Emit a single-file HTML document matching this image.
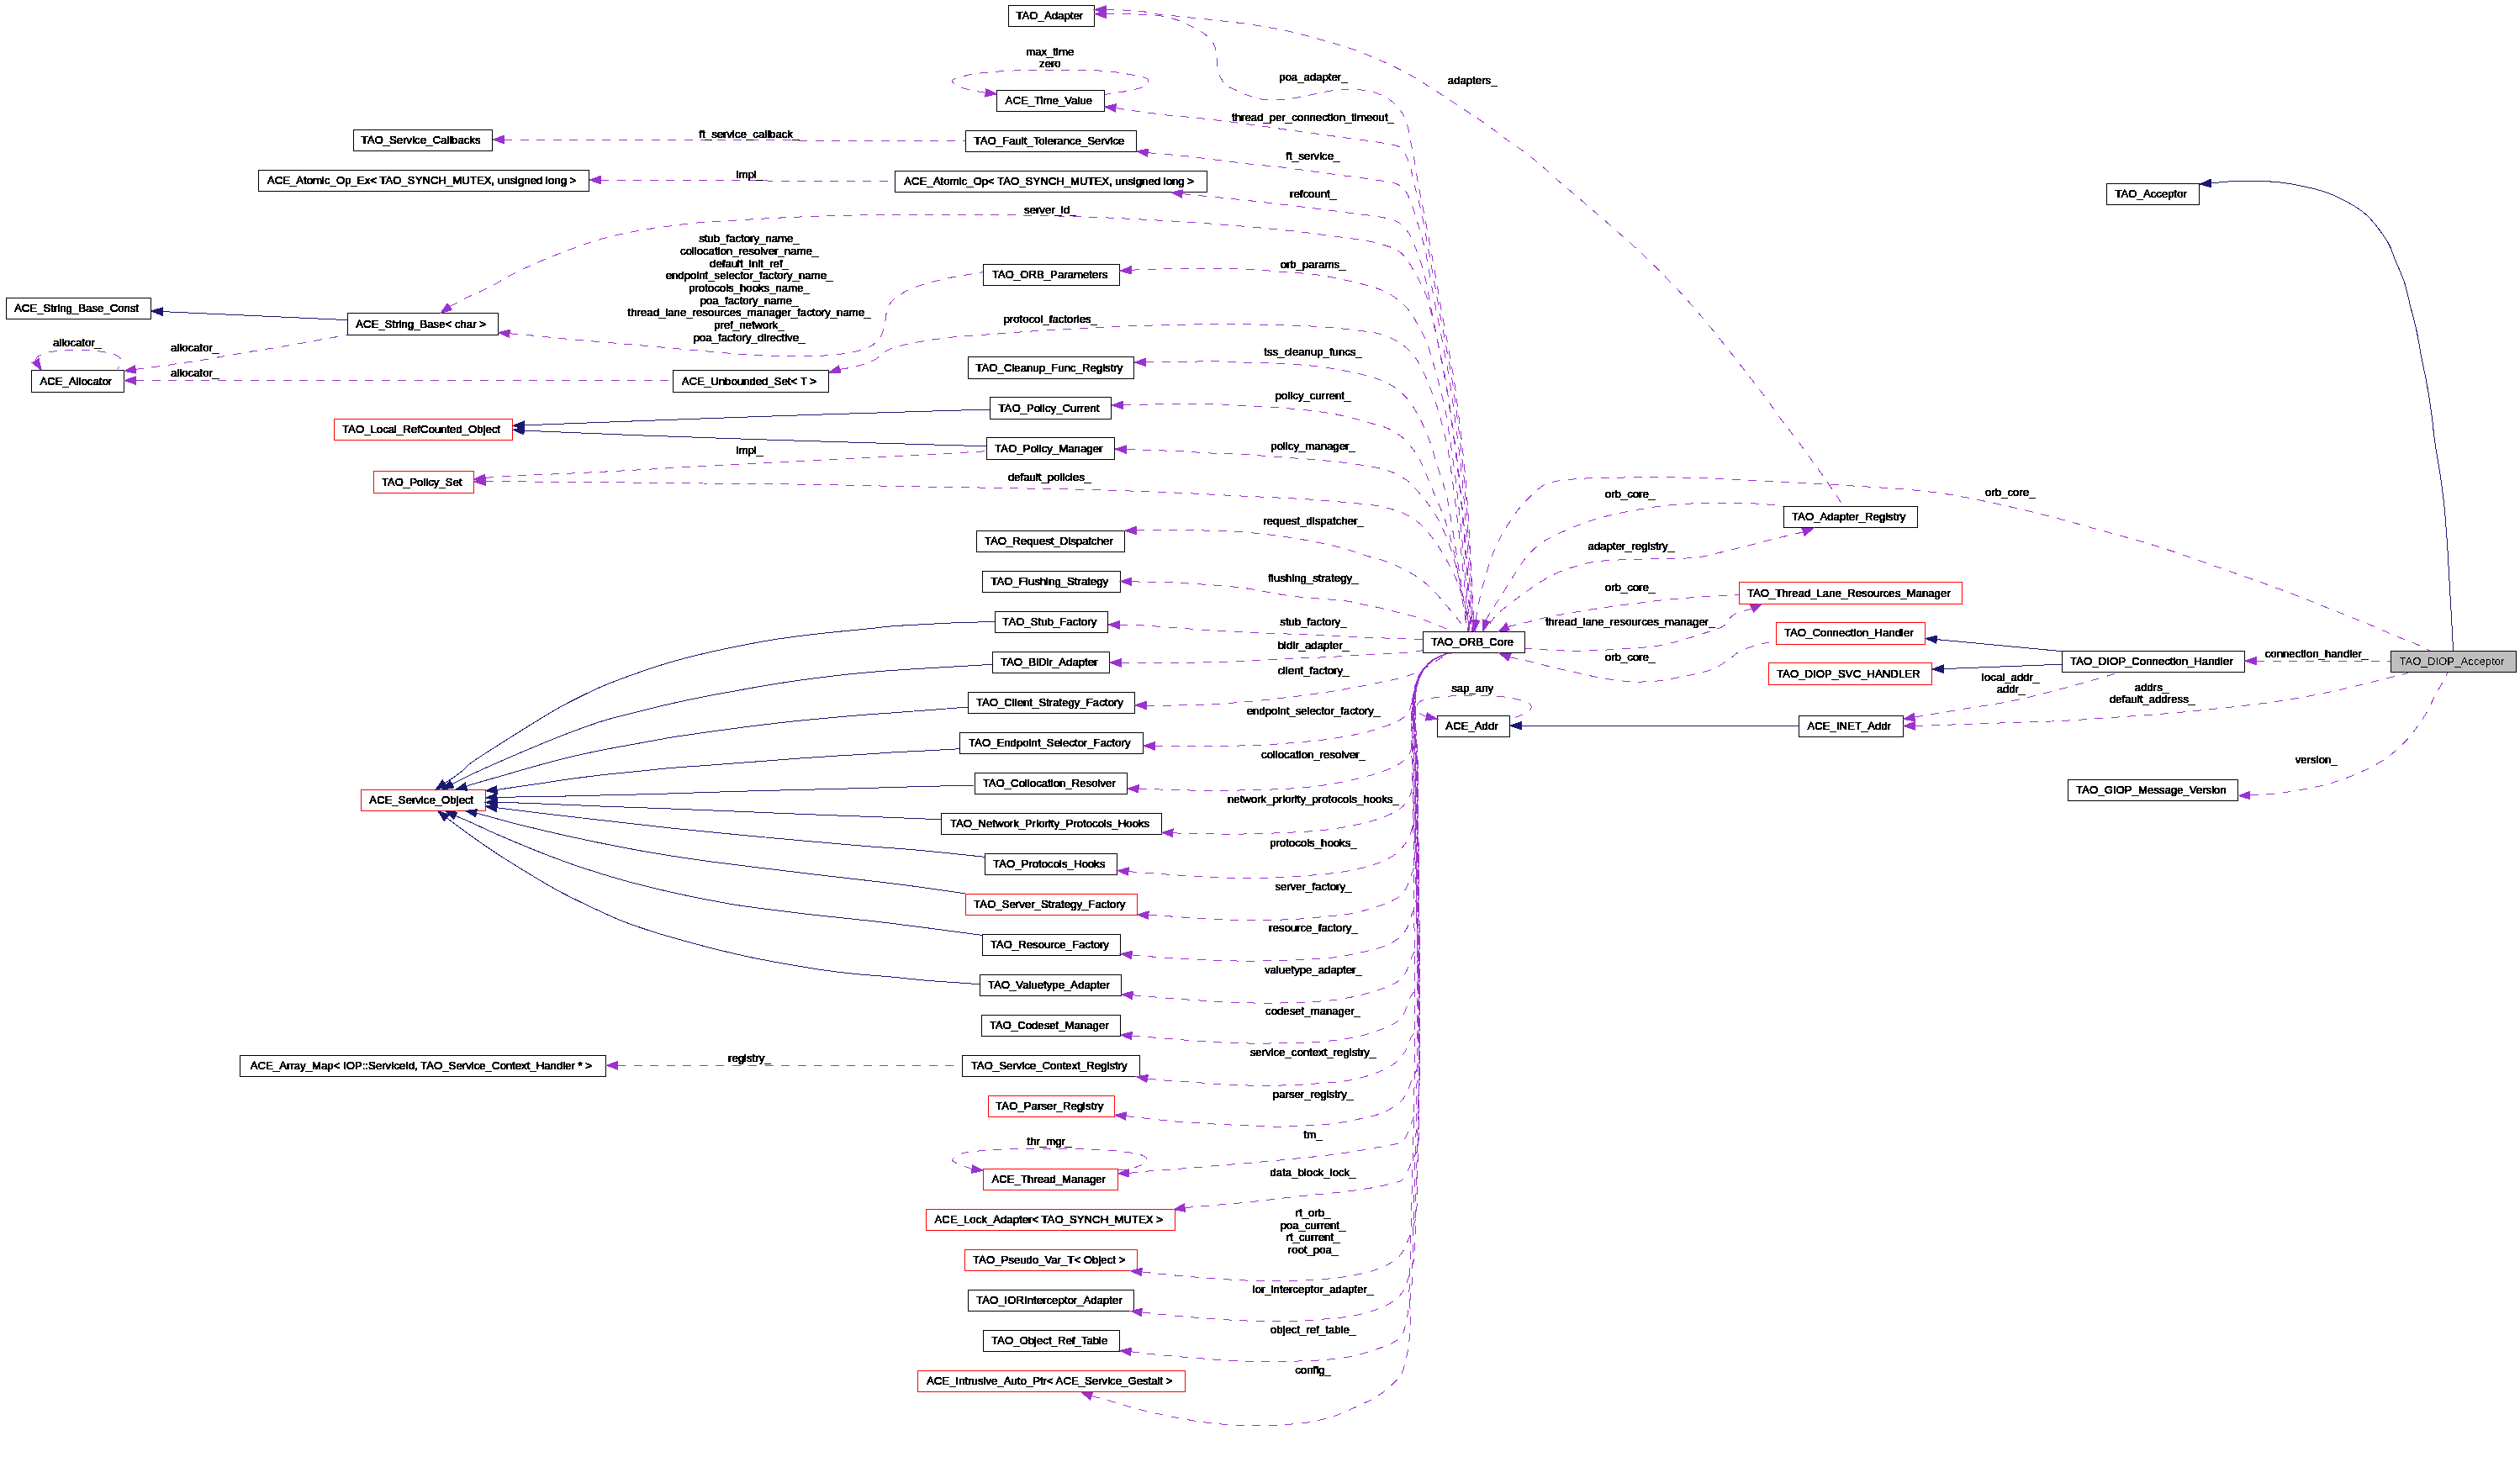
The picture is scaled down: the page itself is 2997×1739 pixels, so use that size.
<!DOCTYPE html>
<html><head><meta charset="utf-8"><title>TAO_DIOP_Acceptor collaboration graph</title>
<style>
html,body{margin:0;padding:0;background:#fff;}
svg{display:block;}
text{font-family:"Liberation Sans",sans-serif;font-size:13.2px;fill:#000;text-anchor:middle;stroke:#000;stroke-width:0.8px;}
.e{fill:none;stroke-width:1;}
.p{stroke:#9a32cd;stroke-dasharray:10 9.5;}
.b{stroke:#191970;}
.ap{fill:#9a32cd;stroke:#9a32cd;stroke-width:1;}
.ab{fill:#191970;stroke:#191970;stroke-width:1;}
.nk{fill:#fff;stroke:#000;stroke-width:1;}
.nr{fill:#fff;stroke:#f00;stroke-width:1;}
.ng{fill:#bfbfbf;stroke:#000;stroke-width:1;}
</style></head>
<body>
<svg width="2997" height="1739" viewBox="0 0 2997 1739">
<rect x="0" y="0" width="2997" height="1739" fill="#fff"/>
<g shape-rendering="crispEdges">
<path class="e p" d="M599.3,166.0L1148.0,167.6"/>
<path class="e p" d="M714.3,214.1L1064.0,215.7"/>
<path class="e b" d="M193.3,370.6L413.3,380.6"/>
<path class="e p" d="M161.2,439.4C173.0,437.9 184.9,436.4 196.8,434.7C213.2,432.3 229.6,430.0 246.0,427.3C262.4,424.6 278.8,421.5 295.2,418.7C311.6,416.0 328.0,413.6 344.4,410.8C356.7,408.7 369.0,406.2 381.3,404.0C392.0,402.1 402.6,400.3 413.3,398.5"/>
<path class="e p" d="M161.3,452.6L800.0,453.0"/>
<path class="e p" d="M42.1,429.1C42.9,427.7 43.1,425.8 44.3,424.9C47.1,422.8 50.5,420.9 54.0,420.0C60.4,418.2 67.2,417.4 73.8,416.8C82.0,416.1 90.2,416.0 98.4,416.3C106.6,416.6 114.9,417.3 123.0,418.7C128.8,419.7 135.3,420.8 140.2,423.6C142.5,424.9 144.6,428.5 144.6,431.0C144.6,433.5 141.7,435.9 140.2,438.4"/>
<path class="e b" d="M623.3,505.8C672.4,504.0 721.4,502.1 770.5,500.3C835.6,497.9 900.6,495.5 965.7,493.4C1036.2,491.1 1106.8,489.1 1177.3,487.0"/>
<path class="e b" d="M623.3,512.2C672.3,514.2 721.4,516.4 770.5,518.2C835.6,520.6 900.6,522.7 965.7,524.7C1034.9,526.9 1104.2,528.8 1173.4,530.8"/>
<path class="e p" d="M577.2,568.7C582.0,568.1 586.7,567.3 591.5,567.0C629.4,565.0 667.4,563.7 705.4,561.8C748.8,559.6 792.2,556.9 835.6,554.6C879.0,552.3 922.3,550.3 965.7,548.0C1009.1,545.7 1052.6,543.4 1096.0,541.0C1121.8,539.6 1147.6,538.1 1173.4,536.7"/>
<path class="e p" d="M606.1,396.8C613.8,397.4 621.5,398.0 629.2,398.7C645.6,400.2 662.0,402.1 678.4,403.6C694.8,405.1 711.2,406.4 727.6,407.8C744.0,409.2 760.4,410.7 776.8,412.2C793.2,413.7 809.6,415.2 826.0,416.6C842.4,418.0 858.8,419.7 875.2,420.8C891.6,421.9 908.0,422.9 924.4,423.3C940.8,423.7 957.2,424.0 973.6,423.3C985.9,422.8 998.4,421.8 1010.5,419.6C1018.9,418.1 1027.7,416.1 1035.0,412.2C1040.0,409.6 1044.4,404.8 1047.4,400.0C1050.1,395.7 1051.0,390.1 1052.3,385.0C1053.5,380.2 1053.2,375.0 1054.8,370.4C1056.4,365.6 1058.3,360.2 1062.0,356.8C1068.2,351.1 1076.3,346.6 1084.3,343.3C1096.1,338.4 1108.7,335.1 1121.2,332.2C1137.0,328.5 1153.2,326.5 1169.2,323.6"/>
<path class="e p" d="M734.3,1267.3L1144.0,1267.3"/>
<path class="e b" d="M528.9,931.8C535.3,927.4 541.9,923.3 548.0,918.5C552.3,915.2 555.6,910.7 560.0,907.6C572.8,898.5 586.4,890.3 599.7,881.8C612.9,873.4 626.1,865.2 639.4,857.0C647.3,852.1 655.1,847.2 663.2,842.7C671.7,838.0 680.3,833.5 689.0,829.2C698.8,824.4 708.6,819.5 718.7,815.3C731.7,809.9 745.1,805.1 758.4,800.4C771.5,795.8 784.7,791.4 798.0,787.5C811.1,783.7 824.5,780.4 837.8,777.2C851.0,774.1 864.2,771.4 877.5,768.7C890.6,766.1 903.8,763.5 917.0,761.3C930.2,759.2 943.5,757.5 956.8,755.8C970.0,754.2 983.3,752.8 996.5,751.4C1009.7,750.0 1023.0,748.9 1036.2,747.5C1044.1,746.7 1052.0,745.5 1060.0,744.9C1073.3,743.9 1086.7,743.3 1100.0,742.6C1113.0,741.9 1126.0,741.2 1139.0,740.7C1153.8,740.2 1168.5,739.9 1183.3,739.5"/>
<path class="e b" d="M537.7,932.7C545.2,929.0 552.5,925.0 560.0,921.5C573.1,915.3 586.4,909.4 599.7,903.6C612.9,897.8 626.1,892.2 639.4,886.7C652.5,881.3 665.7,875.9 679.0,870.9C692.1,866.0 705.3,861.1 718.7,857.0C731.8,853.0 745.1,850.0 758.4,846.7C771.6,843.4 784.8,840.0 798.0,837.0C811.2,834.0 824.5,831.2 837.8,828.6C851.0,826.0 864.3,823.7 877.5,821.3C890.7,818.9 903.8,816.4 917.0,814.3C930.2,812.1 943.5,810.2 956.8,808.4C970.0,806.6 983.2,804.9 996.5,803.4C1009.7,801.9 1023.0,800.6 1036.2,799.4C1044.1,798.7 1052.1,798.0 1060.0,797.5C1073.3,796.6 1086.7,795.8 1100.0,795.0C1113.0,794.2 1126.0,793.5 1139.0,792.7C1152.7,791.9 1166.5,791.1 1180.2,790.3"/>
<path class="e b" d="M554.5,935.6C556.3,934.9 558.1,934.0 560.0,933.4C573.2,929.4 586.5,925.8 599.7,922.0C612.9,918.2 626.1,914.2 639.4,910.6C652.6,907.0 665.7,903.4 679.0,900.2C692.2,897.1 705.4,894.3 718.7,891.7C731.9,889.1 745.2,886.8 758.4,884.4C771.6,882.0 784.8,879.4 798.0,877.2C811.2,875.0 824.5,873.2 837.8,871.3C851.0,869.4 864.3,867.6 877.5,865.9C890.7,864.2 903.8,862.5 917.0,861.0C930.3,859.4 943.5,857.9 956.8,856.6C970.0,855.3 983.3,854.2 996.5,853.0C1009.7,851.8 1023.0,850.6 1036.2,849.6C1044.1,849.0 1052.1,848.6 1060.0,848.0C1073.3,847.0 1086.7,846.0 1100.0,845.0C1117.1,843.7 1134.1,842.3 1151.2,841.0"/>
<path class="e b" d="M590.9,939.4C607.1,937.1 623.3,934.8 639.4,932.4C652.6,930.5 665.8,928.2 679.0,926.4C692.2,924.6 705.5,923.0 718.7,921.5C731.9,920.0 745.2,918.8 758.4,917.5C771.6,916.2 784.8,914.6 798.0,913.5C811.3,912.3 824.5,911.6 837.8,910.6C851.0,909.6 864.3,908.6 877.5,907.6C890.7,906.6 903.8,905.6 917.0,904.6C930.3,903.6 943.5,902.5 956.8,901.6C970.0,900.7 983.3,899.8 996.5,899.0C1009.7,898.2 1023.0,897.5 1036.2,896.7C1044.1,896.2 1052.1,895.5 1060.0,895.0C1073.3,894.2 1086.7,893.7 1100.0,893.0C1113.8,892.3 1127.5,891.5 1141.3,890.7"/>
<path class="e b" d="M591.0,948.3C613.7,948.0 636.5,947.7 659.2,947.3C679.0,946.9 698.9,946.4 718.7,945.9C745.1,945.3 771.6,944.7 798.0,943.9C824.5,943.1 851.0,942.1 877.5,941.3C903.9,940.5 930.4,940.0 956.8,939.3C983.3,938.6 1009.7,938.0 1036.2,937.3C1044.1,937.1 1052.1,936.7 1060.0,936.5C1093.0,935.6 1126.1,934.8 1159.1,934.0"/>
<path class="e b" d="M591.0,954.2C607.1,954.7 623.3,955.2 639.4,955.8C665.8,956.8 692.3,958.2 718.7,959.2C745.1,960.2 771.6,961.0 798.0,962.0C824.5,963.0 851.0,964.1 877.5,965.2C903.9,966.3 930.4,967.5 956.8,968.5C983.3,969.6 1009.7,970.5 1036.2,971.5C1044.1,971.8 1052.1,972.1 1060.0,972.4C1079.8,973.2 1099.6,974.0 1119.4,974.8"/>
<path class="e b" d="M590.9,960.7C607.1,962.7 623.2,964.9 639.4,966.8C665.8,970.0 692.3,973.0 718.7,976.0C745.1,979.0 771.5,982.2 798.0,985.0C824.5,987.8 851.0,990.4 877.5,992.9C903.9,995.4 930.4,997.9 956.8,1000.2C983.3,1002.6 1009.7,1004.8 1036.2,1007.0C1044.1,1007.7 1052.1,1008.1 1060.0,1008.7C1073.3,1009.7 1086.7,1010.7 1100.0,1012.0C1123.7,1014.3 1147.3,1016.9 1171.0,1019.3"/>
<path class="e b" d="M566.6,967.2C584.2,971.9 601.8,977.0 619.5,981.4C639.3,986.3 659.1,990.9 679.0,995.3C698.8,999.7 718.7,1003.8 738.6,1007.6C758.3,1011.4 778.2,1014.8 798.0,1018.0C817.8,1021.1 837.7,1023.9 857.6,1026.5C877.4,1029.1 897.2,1031.4 917.0,1033.8C936.9,1036.2 956.8,1038.6 976.7,1041.0C996.5,1043.3 1016.4,1045.6 1036.2,1047.9C1044.1,1048.8 1052.1,1049.7 1060.0,1050.7C1073.3,1052.4 1086.7,1054.1 1100.0,1056.0C1116.1,1058.2 1132.3,1060.7 1148.4,1063.0"/>
<path class="e b" d="M541.7,970.4C547.8,973.0 553.9,975.5 560.0,978.2C570.6,983.0 581.0,988.1 591.7,992.7C607.5,999.5 623.4,1006.2 639.4,1012.6C652.5,1017.8 665.7,1022.8 679.0,1027.5C692.1,1032.1 705.4,1036.3 718.7,1040.4C731.9,1044.4 745.1,1048.2 758.4,1051.7C771.5,1055.1 784.8,1058.2 798.0,1061.2C811.2,1064.2 824.5,1066.9 837.8,1069.5C851.0,1072.1 864.2,1074.6 877.5,1076.7C890.6,1078.8 903.8,1080.3 917.0,1082.0C930.3,1083.7 943.5,1085.4 956.8,1087.0C970.0,1088.5 983.3,1089.9 996.5,1091.3C1009.7,1092.7 1023.0,1094.0 1036.2,1095.5C1044.1,1096.4 1052.1,1097.3 1060.0,1098.3C1073.3,1100.0 1086.7,1101.7 1100.0,1103.4C1122.8,1106.4 1145.5,1109.5 1168.3,1112.5"/>
<path class="e b" d="M531.2,972.8C540.8,979.9 550.3,987.1 560.0,994.0C569.8,1001.0 579.7,1008.0 589.8,1014.6C602.8,1023.1 616.1,1031.3 629.4,1039.4C640.6,1046.2 651.7,1053.0 663.2,1059.2C674.9,1065.5 686.9,1071.3 698.9,1077.0C712.0,1083.2 725.1,1089.6 738.6,1095.0C751.6,1100.2 764.9,1104.6 778.2,1108.8C791.4,1113.0 804.7,1116.6 818.0,1120.3C831.2,1123.9 844.3,1127.4 857.6,1130.6C870.8,1133.8 884.0,1136.9 897.3,1139.6C910.5,1142.3 923.7,1144.7 937.0,1147.0C950.2,1149.3 963.4,1151.6 976.7,1153.5C989.9,1155.4 1003.1,1157.1 1016.3,1158.4C1030.8,1159.9 1045.4,1160.7 1060.0,1162.0C1073.1,1163.2 1086.1,1164.9 1099.2,1166.0C1121.1,1167.8 1143.1,1169.1 1165.0,1170.7"/>
<path class="e b" d="M2629.4,218.0C2638.4,217.2 2647.4,215.9 2656.4,215.6C2669.4,215.1 2682.4,214.9 2695.4,215.6C2705.7,216.1 2716.1,217.2 2726.2,219.1C2740.0,221.7 2754.1,224.3 2767.2,229.0C2779.3,233.4 2791.0,239.7 2802.0,246.4C2808.4,250.3 2814.5,255.2 2819.5,260.8C2827.1,269.3 2834.2,278.7 2840.0,288.5C2844.1,295.4 2846.2,303.5 2849.3,311.0C2852.7,319.2 2856.7,327.3 2859.5,335.7C2862.5,345.1 2864.3,354.8 2866.7,364.4C2869.1,373.9 2871.8,383.4 2873.9,393.0C2876.3,403.9 2877.9,415.0 2880.0,426.0C2882.0,436.3 2884.4,446.4 2886.2,456.7C2888.2,467.8 2890.0,478.9 2891.5,490.0C2893.1,501.2 2893.9,512.5 2895.5,523.7C2897.0,534.3 2898.9,544.8 2900.6,555.4C2901.7,562.2 2902.8,569.1 2903.7,575.9C2904.8,583.8 2905.9,591.7 2906.7,599.7C2907.9,611.6 2908.8,623.5 2909.7,635.4C2910.5,645.9 2911.1,656.5 2911.7,667.0C2912.4,679.0 2913.0,690.9 2913.7,702.9C2914.4,714.8 2915.1,726.7 2915.7,738.6C2916.4,750.6 2917.0,762.7 2917.6,774.7"/>
<path class="e p" d="M2683.3,786.2L2843.2,786.2"/>
<path class="e b" d="M2303.2,760.6L2452.4,774.7"/>
<path class="e b" d="M2311.3,795.6L2452.4,790.2"/>
<path class="e b" d="M1809.3,863.2L2139.3,863.2"/>
<path class="e p" d="M2276.9,853.1C2293.4,850.3 2310.0,847.4 2326.5,844.7C2347.6,841.2 2368.8,838.4 2389.8,834.3C2405.7,831.2 2421.3,827.1 2437.0,823.2C2447.6,820.6 2458.2,817.6 2468.8,814.7C2479.4,811.8 2489.9,808.9 2500.4,805.8C2506.8,804.0 2513.1,801.9 2519.4,800.0"/>
<path class="e p" d="M2277.1,863.4C2293.6,862.8 2310.0,862.4 2326.5,861.8C2347.6,861.1 2368.7,860.3 2389.8,859.6C2410.9,858.9 2432.0,858.5 2453.0,857.4C2474.0,856.3 2495.0,854.7 2516.0,853.2C2537.2,851.7 2558.4,850.3 2579.5,848.5C2600.6,846.7 2621.7,844.4 2642.8,842.2C2658.5,840.5 2674.3,838.9 2690.0,836.8C2705.9,834.7 2721.8,832.3 2737.6,829.5C2753.5,826.7 2769.3,823.5 2785.0,820.0C2800.9,816.4 2816.7,812.2 2832.5,808.3C2843.0,805.7 2853.5,803.1 2864.0,800.5"/>
<path class="e p" d="M2675.7,946.0C2685.8,945.3 2695.9,945.1 2706.0,944.0C2716.6,942.9 2727.1,941.2 2737.6,939.3C2748.2,937.3 2758.9,935.3 2769.3,932.3C2780.0,929.2 2790.7,925.6 2801.0,921.2C2811.8,916.6 2822.7,911.7 2832.5,905.4C2841.6,899.6 2850.0,892.4 2857.8,884.9C2863.7,879.2 2868.7,872.5 2873.6,865.9C2878.2,859.8 2882.5,853.5 2886.3,846.9C2889.9,840.8 2892.4,834.1 2895.8,827.9C2899.8,820.4 2904.3,813.2 2908.4,805.8C2909.4,803.9 2910.1,801.9 2911.0,800.0"/>
<path class="e p" d="M1755.0,737.8C1755.6,734.7 1756.1,731.7 1756.7,728.7C1758.3,720.1 1759.7,711.4 1761.7,702.9C1763.0,697.5 1765.1,692.3 1766.7,687.0C1768.4,681.0 1769.6,674.9 1771.6,669.0C1773.6,663.0 1776.0,657.1 1778.6,651.3C1781.3,645.2 1784.3,639.2 1787.5,633.4C1790.2,628.6 1793.4,624.1 1796.4,619.5C1799.5,614.8 1802.5,610.0 1806.0,605.6C1809.7,601.0 1813.8,596.8 1818.0,592.7C1822.5,588.2 1827.0,583.7 1832.0,579.8C1834.7,577.7 1837.8,575.9 1841.0,574.9C1847.1,573.0 1853.6,571.7 1860.0,571.0C1873.3,569.6 1886.6,568.8 1900.0,568.5C1933.3,567.8 1966.7,567.6 2000.0,568.0C2019.3,568.2 2038.7,569.4 2058.0,570.3C2068.6,570.8 2079.1,571.4 2089.7,572.0C2102.8,572.7 2115.9,573.4 2129.0,574.0C2142.3,574.7 2155.7,575.2 2169.0,575.9C2182.2,576.6 2195.5,577.5 2208.7,578.3C2221.9,579.1 2235.2,579.8 2248.4,580.8C2261.6,581.8 2274.8,582.7 2288.0,584.2C2301.3,585.7 2314.6,587.6 2327.8,589.8C2341.1,592.1 2354.3,594.9 2367.5,597.7C2380.7,600.5 2393.9,603.5 2407.0,606.6C2420.3,609.8 2433.6,613.0 2446.8,616.5C2460.1,620.0 2473.3,623.8 2486.5,627.5C2503.2,632.1 2520.0,636.5 2536.7,641.3C2550.0,645.1 2563.3,649.0 2576.4,653.3C2589.7,657.6 2602.8,662.4 2616.0,667.0C2629.2,671.6 2642.5,676.3 2655.7,681.0C2668.9,685.7 2682.2,690.2 2695.4,695.0C2708.6,699.8 2721.9,704.7 2735.0,709.8C2748.3,715.0 2761.5,720.4 2774.8,725.7C2788.0,731.0 2801.3,736.1 2814.5,741.5C2827.7,747.0 2840.8,752.9 2854.0,758.4C2860.6,761.2 2867.4,763.5 2874.0,766.3C2879.7,768.8 2885.2,771.6 2890.8,774.3"/>
<path class="e p" d="M1767.5,738.3C1767.9,737.0 1768.0,735.7 1768.7,734.6C1774.3,725.2 1780.6,716.1 1786.5,706.8C1793.2,696.3 1799.4,685.5 1806.3,675.1C1810.0,669.6 1813.8,664.0 1818.3,659.2C1823.0,654.1 1828.4,649.3 1834.1,645.3C1840.3,641.0 1847.1,637.4 1854.0,634.4C1868.2,628.2 1882.7,621.9 1897.6,617.5C1917.1,611.9 1937.1,607.8 1957.1,604.6C1976.8,601.5 1996.8,599.7 2016.7,598.7C2036.5,597.7 2056.4,598.6 2076.2,598.7C2080.7,598.7 2085.2,598.8 2089.7,599.1C2096.3,599.5 2102.9,600.0 2109.5,600.7C2113.5,601.1 2117.4,601.8 2121.4,602.3"/>
<path class="e p" d="M2144.6,632.8C2139.5,634.0 2134.5,635.2 2129.4,636.4C2122.8,638.0 2116.1,639.4 2109.5,641.0C2102.9,642.7 2096.3,644.6 2089.7,646.3C2083.1,648.0 2076.4,649.6 2069.8,651.3C2063.2,652.9 2056.6,654.7 2050.0,656.2C2038.9,658.7 2027.9,662.1 2016.7,663.2C1997.0,665.1 1977.0,664.3 1957.1,665.2C1937.3,666.0 1917.2,665.4 1897.6,668.1C1884.1,670.0 1870.8,674.4 1857.9,679.0C1849.6,682.0 1841.7,686.4 1834.1,691.0C1825.2,696.3 1816.8,702.7 1808.3,708.8C1803.0,712.7 1797.6,716.6 1792.5,720.7C1787.7,724.5 1782.5,728.1 1778.6,732.6C1773.9,738.0 1770.6,744.5 1766.7,750.5"/>
<path class="e p" d="M1793.5,745.5C1801.7,743.5 1810.0,741.6 1818.3,739.6C1824.9,737.9 1831.4,735.9 1838.1,734.6C1854.6,731.3 1871.1,728.3 1887.7,725.7C1904.2,723.0 1920.7,720.9 1937.3,718.7C1953.8,716.6 1970.3,714.4 1986.9,712.8C2003.4,711.2 2020.0,710.3 2036.5,709.2C2047.1,708.5 2057.8,708.0 2068.3,707.2C2068.4,707.2 2068.3,706.9 2068.3,706.8"/>
<path class="e p" d="M2083.6,724.3C2079.0,725.4 2074.2,726.1 2069.8,727.7C2066.4,728.9 2062.7,730.3 2060.0,732.6C2056.1,735.9 2053.6,740.8 2050.0,744.5C2049.1,745.5 2047.7,746.0 2046.4,746.5C2036.6,750.0 2026.7,753.4 2016.7,756.4C2003.5,760.4 1990.4,764.8 1977.0,767.3C1964.0,769.8 1950.6,770.4 1937.3,771.3C1917.5,772.7 1897.6,774.0 1877.8,774.3C1864.6,774.5 1851.3,773.5 1838.1,772.9C1830.0,772.5 1821.8,771.8 1813.7,771.3"/>
<path class="e p" d="M1795.4,781.6C1803.0,783.3 1810.7,784.8 1818.3,786.6C1828.2,789.0 1838.1,791.8 1848.0,794.1C1857.9,796.5 1867.9,798.5 1877.8,800.7C1887.7,802.8 1897.5,805.4 1907.5,807.0C1917.4,808.7 1927.3,810.0 1937.3,810.6C1947.2,811.2 1957.2,811.2 1967.1,810.4C1977.0,809.6 1987.0,807.7 1996.8,805.6C2010.1,802.9 2023.8,800.7 2036.5,796.1C2043.7,793.5 2049.9,788.4 2056.3,784.2C2061.0,781.2 2064.9,776.8 2069.8,774.3C2076.0,771.2 2083.0,769.3 2089.7,767.3C2095.2,765.7 2100.9,764.7 2106.5,763.4C2108.4,762.9 2110.4,762.5 2112.3,762.0"/>
<path class="e p" d="M1315.3,11.5C1318.5,11.5 1321.8,11.4 1325.0,11.5C1331.5,11.7 1337.9,12.1 1344.4,12.5C1349.0,12.8 1353.7,12.9 1358.3,13.5C1365.3,14.5 1372.2,16.4 1379.2,17.4C1386.1,18.3 1393.1,18.5 1400.0,19.2C1406.9,19.9 1413.9,20.8 1420.8,21.5C1427.8,22.2 1434.7,22.8 1441.7,23.6C1448.6,24.3 1455.6,25.2 1462.5,26.0C1469.4,26.8 1476.4,27.5 1483.3,28.5C1493.9,30.1 1504.5,31.8 1515.0,33.7C1521.7,34.9 1528.4,36.2 1535.0,37.7C1541.6,39.2 1548.2,41.0 1554.8,42.7C1561.4,44.5 1568.0,46.3 1574.6,48.2C1581.2,50.1 1587.8,52.0 1594.4,54.0C1601.1,56.1 1607.8,58.1 1614.3,60.5C1621.0,62.9 1627.5,65.7 1634.0,68.5C1640.7,71.4 1647.4,74.3 1654.0,77.4C1660.7,80.6 1667.3,83.8 1673.8,87.3C1680.6,91.0 1687.1,95.1 1693.7,99.2C1700.4,103.4 1706.9,107.7 1713.5,112.0C1720.1,116.3 1726.7,120.7 1733.3,125.0C1739.9,129.3 1746.5,133.5 1753.0,137.9C1759.7,142.4 1766.4,147.0 1773.0,151.8C1779.7,156.6 1786.2,161.8 1792.9,166.7C1799.4,171.4 1806.3,175.8 1812.7,180.6C1819.5,185.7 1826.1,190.9 1832.5,196.4C1839.3,202.2 1845.7,208.4 1852.4,214.3C1858.9,220.0 1865.6,225.4 1872.2,231.0C1878.8,236.6 1885.4,242.3 1892.0,248.0C1898.9,254.0 1905.9,259.8 1912.7,265.9C1926.0,277.7 1939.5,289.4 1952.4,301.6C1965.9,314.4 1979.1,327.6 1992.0,341.0C2001.6,351.0 2010.7,361.5 2019.8,372.0C2026.6,379.8 2033.2,387.9 2039.7,396.0C2046.4,404.3 2052.9,412.6 2059.5,421.0C2066.1,429.4 2072.7,437.8 2079.3,446.3C2086.0,454.8 2092.8,463.3 2099.2,472.0C2106.0,481.2 2112.2,490.7 2119.0,499.9C2125.5,508.6 2132.4,517.0 2138.9,525.7C2145.6,534.7 2152.1,543.9 2158.7,553.0C2164.2,560.6 2169.7,568.3 2175.0,576.0C2179.8,582.9 2184.5,589.9 2189.0,597.0C2190.1,598.8 2191.0,600.7 2192.0,602.5"/>
<path class="e p" d="M1696.3,852.5C1693.6,851.1 1690.3,850.3 1688.3,848.3C1686.6,846.6 1685.5,843.7 1685.3,841.3C1685.2,839.4 1685.8,836.5 1687.3,835.4C1690.4,833.1 1695.1,831.9 1699.2,831.0C1705.7,829.6 1712.4,829.0 1719.0,828.5C1725.6,827.9 1732.3,827.6 1738.9,827.5C1745.5,827.3 1752.1,827.4 1758.7,827.5C1765.3,827.6 1772.0,827.6 1778.6,828.1C1785.2,828.6 1791.9,829.1 1798.4,830.4C1805.1,831.9 1812.3,833.5 1818.3,836.4C1819.9,837.2 1821.5,839.8 1821.2,841.3C1820.9,843.4 1818.4,846.0 1816.3,847.3C1812.1,849.9 1807.0,851.3 1802.4,853.3"/>
<path class="e p" d="M1172.2,110.4C1165.0,109.0 1157.8,108.1 1150.8,106.3C1146.1,105.1 1141.0,103.9 1137.0,101.5C1135.0,100.3 1131.4,96.6 1132.6,95.5C1135.7,92.7 1144.1,91.3 1150.0,89.6C1152.3,88.9 1154.6,88.5 1156.9,88.2C1163.9,87.3 1170.8,86.4 1177.8,85.8C1187.0,85.0 1196.3,84.4 1205.6,84.0C1214.8,83.6 1224.1,83.4 1233.3,83.3C1242.6,83.2 1251.9,83.3 1261.1,83.3C1270.4,83.3 1279.6,83.1 1288.9,83.3C1298.2,83.6 1307.4,83.9 1316.7,84.7C1323.6,85.3 1330.6,86.4 1337.5,87.5C1343.5,88.5 1349.6,89.5 1355.6,91.0C1358.9,91.8 1363.6,92.4 1365.3,94.4C1366.4,95.9 1365.6,100.2 1363.9,101.4C1359.6,104.4 1352.9,105.5 1347.2,106.9C1340.9,108.5 1334.3,109.3 1327.8,110.4C1323.1,111.2 1318.3,111.8 1313.6,112.5"/>
<path class="e p" d="M1156.1,1390.7C1152.2,1389.2 1148.3,1387.8 1144.4,1386.2C1141.6,1385.1 1138.6,1384.3 1136.0,1382.8C1134.6,1382.0 1131.9,1380.3 1132.6,1379.3C1134.3,1376.8 1139.1,1373.7 1143.0,1372.4C1149.1,1370.3 1156.0,1369.9 1162.5,1369.2C1171.7,1368.2 1181.0,1367.7 1190.3,1367.2C1199.5,1366.8 1208.8,1366.6 1218.0,1366.5C1229.6,1366.4 1241.2,1366.3 1252.8,1366.4C1264.4,1366.4 1275.9,1366.5 1287.5,1366.8C1296.8,1367.0 1306.1,1367.2 1315.3,1367.8C1322.2,1368.3 1329.1,1369.1 1336.0,1370.0C1342.1,1370.8 1348.3,1371.5 1354.2,1373.0C1357.1,1373.7 1360.5,1374.7 1362.5,1376.5C1363.7,1377.7 1364.8,1380.8 1363.9,1382.0C1362.1,1384.3 1357.6,1385.6 1354.2,1387.0C1350.6,1388.4 1346.8,1389.7 1343.0,1390.4C1338.5,1391.3 1333.9,1391.3 1329.4,1391.8"/>
<path class="e p" d="M1315.3,16.7C1318.5,16.7 1321.8,16.7 1325.0,16.7C1331.5,16.7 1337.9,16.6 1344.4,16.7C1349.0,16.8 1353.7,17.1 1358.3,17.4C1365.3,17.8 1372.3,17.8 1379.2,18.8C1385.3,19.6 1391.4,21.0 1397.2,22.9C1402.9,24.7 1408.5,27.3 1413.9,29.9C1419.6,32.6 1425.6,35.2 1430.6,38.9C1435.3,42.3 1440.1,46.5 1443.0,51.4C1445.6,55.8 1446.4,61.5 1447.2,66.7C1447.8,70.3 1446.7,74.2 1447.2,77.8C1447.7,81.6 1448.4,85.5 1450.0,88.9C1452.1,93.4 1454.8,98.1 1458.3,101.4C1461.2,104.1 1465.7,105.2 1469.4,107.0C1474.0,109.2 1478.5,111.6 1483.3,113.2C1489.8,115.4 1496.4,117.6 1503.2,118.5C1509.7,119.3 1516.4,118.8 1523.0,118.5C1529.7,118.1 1536.3,117.1 1542.9,116.1C1549.5,115.0 1556.1,113.4 1562.7,112.1C1569.3,110.8 1575.9,109.1 1582.5,108.1C1589.1,107.2 1595.8,106.3 1602.4,106.2C1608.3,106.0 1614.4,106.3 1620.2,107.1C1626.3,108.0 1632.5,108.9 1638.1,111.1C1644.4,113.6 1650.7,116.8 1656.0,121.0C1660.6,124.8 1664.8,129.8 1667.9,134.9C1671.1,140.3 1673.0,146.7 1674.8,152.8C1676.3,157.9 1676.8,163.4 1677.8,168.7C1679.1,175.3 1680.6,181.9 1681.7,188.5C1683.3,197.3 1684.4,206.2 1686.0,215.0C1688.4,228.4 1691.3,241.7 1693.9,255.0C1696.4,268.3 1698.9,281.7 1701.4,295.0C1703.8,308.3 1706.1,321.7 1708.4,335.0C1710.7,348.3 1712.9,361.7 1715.3,375.0C1717.7,388.4 1720.4,401.6 1722.8,415.0C1725.2,428.3 1727.7,441.6 1729.7,455.0C1731.7,468.3 1733.2,481.7 1734.9,495.0C1736.5,508.3 1738.1,521.7 1739.5,535.0C1740.9,548.3 1742.2,561.7 1743.4,575.0C1744.5,588.3 1745.4,601.7 1746.3,615.0C1747.2,628.3 1748.0,641.7 1748.8,655.0C1749.5,668.3 1750.1,681.7 1750.8,695.0C1751.4,708.3 1751.9,721.7 1752.5,735.0C1752.7,740.3 1752.8,745.7 1753.0,751.0"/>
<path class="e p" d="M1326.8,128.4C1332.7,129.4 1338.5,130.4 1344.4,131.2C1351.4,132.3 1358.3,133.1 1365.3,134.0C1372.2,134.9 1379.1,136.0 1386.0,136.8C1392.6,137.5 1399.3,137.8 1406.0,138.5C1420.5,140.0 1435.1,141.5 1449.6,143.3C1462.8,144.8 1476.1,146.6 1489.3,148.4C1501.9,150.1 1514.4,152.0 1527.0,153.8C1540.2,155.6 1553.4,157.5 1566.7,159.3C1579.9,161.1 1593.1,162.9 1606.3,164.7C1618.9,166.4 1631.6,167.9 1644.0,170.0C1650.7,171.2 1658.3,171.4 1663.9,174.6C1667.9,176.9 1670.5,182.2 1672.8,186.5C1675.1,190.8 1676.4,195.7 1677.8,200.4C1679.4,206.3 1680.3,212.3 1681.7,218.3C1684.4,228.9 1687.6,239.3 1690.0,250.0C1692.9,263.2 1695.1,276.7 1697.6,290.0C1700.1,303.3 1702.4,316.7 1704.8,330.0C1707.2,343.3 1709.5,356.7 1711.9,370.0C1714.4,383.3 1716.9,396.7 1719.4,410.0C1721.9,423.3 1724.6,436.6 1726.7,450.0C1728.9,463.3 1730.5,476.7 1732.2,490.0C1733.9,503.3 1735.6,516.7 1737.1,530.0C1738.6,543.3 1740.1,556.7 1741.3,570.0C1742.5,583.3 1743.5,596.7 1744.4,610.0C1745.4,623.3 1746.3,636.7 1747.1,650.0C1747.9,663.3 1748.6,676.7 1749.3,690.0C1749.9,703.3 1750.6,716.7 1751.2,730.0C1751.6,737.0 1751.7,744.0 1752.0,751.0"/>
<path class="e p" d="M1365.2,181.7C1377.8,182.8 1390.4,183.6 1403.0,184.9C1417.2,186.4 1431.4,188.3 1445.6,190.1C1458.9,191.7 1472.1,193.5 1485.3,195.0C1498.5,196.5 1511.8,197.5 1525.0,199.0C1538.3,200.6 1551.5,202.6 1564.7,204.4C1577.9,206.2 1591.1,207.9 1604.4,209.7C1616.9,211.4 1629.5,213.0 1642.1,214.9C1648.0,215.8 1654.4,216.1 1659.9,218.3C1664.0,219.9 1668.1,222.8 1670.8,226.2C1674.0,230.1 1675.8,235.3 1677.8,240.1C1680.1,245.9 1681.9,251.9 1683.7,257.9C1687.4,270.2 1691.4,282.5 1694.4,295.0C1697.5,308.2 1699.4,321.7 1701.8,335.0C1704.3,348.3 1706.6,361.7 1709.2,375.0C1711.7,388.4 1714.6,401.6 1717.1,415.0C1719.7,428.3 1722.3,441.6 1724.4,455.0C1726.6,468.3 1728.3,481.7 1730.0,495.0C1731.8,508.3 1733.6,521.7 1735.1,535.0C1736.7,548.3 1738.2,561.7 1739.4,575.0C1740.7,588.3 1741.8,601.7 1742.8,615.0C1743.9,628.3 1744.8,641.7 1745.7,655.0C1746.6,668.3 1747.4,681.7 1748.1,695.0C1748.9,708.3 1749.6,721.7 1750.3,735.0C1750.6,740.3 1750.8,745.7 1751.0,751.0"/>
<path class="e p" d="M1406.1,230.5C1408.0,230.7 1410.0,231.0 1411.9,231.2C1425.1,232.5 1438.4,233.8 1451.6,235.1C1464.2,236.4 1476.7,237.7 1489.3,239.1C1502.5,240.5 1515.7,242.1 1529.0,243.7C1542.2,245.2 1555.4,246.9 1568.7,248.6C1581.2,250.2 1593.8,251.7 1606.3,253.4C1619.6,255.1 1632.9,256.5 1646.0,258.9C1651.5,260.0 1657.2,261.3 1661.9,263.9C1666.1,266.2 1669.7,270.0 1672.8,273.8C1675.7,277.3 1678.0,281.5 1679.8,285.7C1685.0,298.5 1689.9,311.6 1693.6,325.0C1697.2,338.1 1698.9,351.7 1701.6,365.0C1704.2,378.3 1706.8,391.7 1709.6,405.0C1712.3,418.3 1715.5,431.6 1718.0,445.0C1720.4,458.3 1722.3,471.7 1724.4,485.0C1726.4,498.3 1728.4,511.6 1730.2,525.0C1732.0,538.3 1733.6,551.7 1735.1,565.0C1736.6,578.3 1737.9,591.7 1739.2,605.0C1740.5,618.3 1741.7,631.7 1742.8,645.0C1743.8,658.3 1744.7,671.7 1745.7,685.0C1746.7,698.3 1747.7,711.7 1748.6,725.0C1749.1,733.7 1749.5,742.3 1750.0,751.0"/>
<path class="e p" d="M534.8,364.7C541.0,361.4 547.2,357.9 553.5,354.8C564.1,349.6 575.1,345.4 585.5,340.0C592.1,336.6 598.0,332.0 604.6,328.6C616.7,322.4 629.0,316.7 641.5,311.3C653.6,306.0 666.0,301.1 678.4,296.6C690.6,292.1 702.8,287.8 715.3,284.3C727.4,280.9 739.8,278.1 752.2,275.7C764.4,273.3 776.7,271.7 789.0,270.0C801.3,268.3 813.6,266.4 826.0,265.3C842.4,263.8 858.8,263.0 875.2,262.0C891.6,261.0 908.0,260.0 924.4,259.2C940.8,258.4 957.2,257.7 973.6,257.2C990.0,256.7 1006.4,256.3 1022.8,256.0C1039.2,255.7 1055.6,255.4 1072.0,255.3C1088.4,255.2 1104.8,255.2 1121.2,255.2C1137.6,255.2 1154.0,255.4 1170.4,255.5C1184.9,255.6 1199.5,255.7 1214.0,256.0C1235.3,256.4 1256.5,256.9 1277.8,257.5C1291.0,257.9 1304.3,258.4 1317.5,259.0C1330.7,259.6 1343.8,260.3 1357.0,261.0C1370.3,261.7 1383.5,262.4 1396.8,263.2C1410.0,264.0 1423.3,264.8 1436.5,265.8C1449.7,266.8 1462.8,267.9 1476.0,269.0C1489.3,270.1 1502.6,271.3 1515.9,272.6C1529.1,273.9 1542.4,275.4 1555.6,277.0C1568.8,278.6 1581.9,280.4 1595.0,282.2C1605.7,283.7 1616.4,284.7 1627.0,286.8C1635.4,288.5 1643.9,290.7 1652.0,293.5C1656.9,295.2 1662.0,297.3 1666.0,300.5C1670.0,303.8 1673.1,308.6 1676.0,313.0C1680.4,319.7 1684.3,326.8 1688.0,334.0C1691.3,340.5 1694.7,347.1 1697.0,354.0C1700.4,364.1 1702.5,374.6 1705.0,385.0C1708.1,398.3 1710.9,411.6 1713.5,425.0C1716.2,438.3 1718.6,451.6 1720.8,465.0C1723.0,478.3 1724.9,491.7 1726.7,505.0C1728.6,518.3 1730.4,531.7 1732.0,545.0C1733.6,558.3 1735.1,571.7 1736.5,585.0C1737.9,598.3 1739.1,611.7 1740.2,625.0C1741.4,638.3 1742.4,651.7 1743.4,665.0C1744.4,678.3 1745.4,691.7 1746.2,705.0C1747.1,718.3 1747.9,731.7 1748.7,745.0C1748.8,747.0 1748.9,749.0 1749.0,751.0"/>
<path class="e p" d="M1345.4,321.3C1349.2,321.1 1353.1,320.7 1357.0,320.6C1372.3,320.1 1387.6,319.5 1403.0,319.4C1417.2,319.2 1431.4,319.6 1445.6,319.8C1458.9,319.9 1472.1,319.8 1485.3,320.4C1498.6,321.0 1511.8,322.3 1525.0,323.3C1538.2,324.4 1551.5,325.0 1564.7,326.7C1577.3,328.4 1589.9,330.8 1602.4,333.7C1615.7,336.7 1629.2,339.9 1642.1,344.6C1648.4,346.9 1654.5,350.5 1659.9,354.5C1665.7,358.7 1671.3,363.8 1675.8,369.4C1680.6,375.3 1684.0,382.5 1687.7,389.2C1691.3,395.7 1694.9,402.2 1697.6,409.0C1700.2,415.4 1701.6,422.3 1703.6,428.9C1705.6,435.5 1707.8,442.0 1709.5,448.7C1713.0,462.4 1716.5,476.1 1719.2,490.0C1721.8,503.2 1723.6,516.6 1725.5,530.0C1727.5,543.3 1729.4,556.6 1731.1,570.0C1732.7,583.3 1734.2,596.7 1735.6,610.0C1737.0,623.3 1738.4,636.7 1739.6,650.0C1740.9,663.3 1742.0,676.7 1743.2,690.0C1744.3,703.3 1745.5,716.7 1746.5,730.0C1747.1,737.0 1747.5,744.0 1748.0,751.0"/>
<path class="e p" d="M998.7,439.4C1005.1,438.2 1011.6,437.7 1017.9,436.0C1025.4,434.0 1033.1,431.7 1040.0,428.2C1045.4,425.4 1049.4,419.9 1054.8,417.0C1060.1,414.2 1066.1,412.5 1072.0,411.0C1080.1,408.9 1088.3,407.3 1096.6,406.0C1108.8,404.0 1121.2,402.3 1133.5,401.0C1149.0,399.4 1164.5,398.7 1180.0,397.5C1193.8,396.5 1207.5,395.4 1221.3,394.4C1235.0,393.4 1248.8,392.5 1262.5,391.7C1276.3,390.9 1290.0,390.3 1303.8,389.6C1317.5,389.0 1331.3,388.3 1345.0,387.8C1358.8,387.3 1372.6,386.9 1386.4,386.6C1410.8,386.1 1435.2,385.3 1459.5,385.2C1472.8,385.2 1486.0,385.9 1499.2,386.2C1512.4,386.6 1525.7,386.7 1538.9,387.2C1552.1,387.7 1565.4,388.2 1578.6,389.2C1591.8,390.3 1605.0,391.9 1618.3,393.6C1624.9,394.4 1631.6,394.9 1638.1,396.5C1644.2,398.1 1650.3,400.3 1656.0,403.1C1661.5,405.8 1667.2,409.0 1671.8,413.0C1677.1,417.6 1681.8,423.1 1685.7,428.9C1689.8,435.0 1692.6,442.0 1695.6,448.7C1698.6,455.2 1701.1,461.9 1703.6,468.6C1706.0,475.1 1708.6,481.7 1710.5,488.4C1714.4,502.2 1718.1,516.0 1721.0,530.0C1723.7,543.2 1725.3,556.6 1727.2,570.0C1729.1,583.3 1730.7,596.7 1732.3,610.0C1734.0,623.3 1735.5,636.7 1737.0,650.0C1738.5,663.3 1739.8,676.7 1741.2,690.0C1742.5,703.3 1743.9,716.7 1745.2,730.0C1745.8,737.0 1746.4,744.0 1747.0,751.0"/>
<path class="e p" d="M1362.5,430.9C1375.0,430.7 1387.5,430.6 1400.0,430.5C1414.6,430.3 1429.1,429.7 1443.7,429.9C1456.9,430.0 1470.1,430.8 1483.3,431.3C1496.6,431.7 1509.8,431.8 1523.0,432.5C1536.3,433.2 1549.5,434.0 1562.7,435.4C1575.3,436.9 1588.0,438.7 1600.4,441.2C1613.1,443.8 1625.8,446.7 1638.1,450.7C1644.7,452.9 1651.2,455.8 1656.9,459.6C1663.1,463.8 1668.9,468.9 1673.8,474.5C1678.5,479.9 1682.1,486.2 1685.7,492.4C1688.7,497.5 1691.3,502.9 1693.7,508.3C1696.5,514.8 1699.2,521.4 1701.6,528.1C1703.9,534.6 1705.5,541.3 1707.5,547.9C1711.8,562.0 1717.0,575.8 1720.5,590.0C1723.7,603.1 1725.3,616.6 1727.6,630.0C1729.8,643.3 1731.8,656.7 1733.9,670.0C1736.0,683.3 1738.2,696.7 1740.2,710.0C1742.2,723.3 1744.0,736.7 1745.9,750.0C1745.9,750.3 1746.0,750.7 1746.0,751.0"/>
<path class="e p" d="M1335.5,481.8C1357.0,481.4 1378.5,480.8 1400.0,480.5C1413.2,480.3 1426.5,480.1 1439.7,480.5C1452.9,480.8 1466.1,481.7 1479.4,482.5C1492.6,483.2 1505.8,483.9 1519.0,484.8C1532.3,485.8 1545.6,486.8 1558.7,488.4C1571.3,490.0 1584.0,491.7 1596.4,494.4C1608.5,496.9 1620.3,500.5 1632.1,503.9C1638.8,505.8 1645.8,507.2 1652.0,510.2C1658.4,513.3 1664.7,517.3 1669.8,522.1C1675.9,527.9 1681.1,534.9 1685.7,542.0C1689.7,548.1 1692.5,555.3 1695.6,561.8C1695.7,562.0 1695.2,561.9 1695.2,562.0C1697.4,567.5 1699.8,573.2 1702.2,578.8C1705.1,585.8 1708.2,592.7 1711.1,599.7C1713.8,606.3 1716.9,612.7 1719.0,619.5C1723.2,632.8 1727.0,646.4 1730.0,660.0C1732.9,673.2 1734.6,686.7 1736.8,700.0C1739.1,713.3 1741.2,726.7 1743.3,740.0C1743.9,743.7 1744.4,747.3 1745.0,751.0"/>
<path class="e p" d="M1339.5,534.6C1359.7,535.2 1379.8,535.7 1400.0,536.6C1413.2,537.2 1426.4,538.4 1439.7,539.0C1452.9,539.6 1466.2,539.6 1479.4,540.4C1492.6,541.2 1505.8,542.6 1519.0,543.6C1532.3,544.6 1545.5,545.2 1558.7,546.3C1572.0,547.5 1585.2,548.6 1598.4,550.3C1611.7,552.0 1625.0,553.8 1638.1,556.5C1644.2,557.7 1650.3,559.4 1656.0,561.8C1662.2,564.5 1668.1,568.1 1673.8,571.7C1675.5,572.8 1677.0,574.4 1678.4,575.9C1682.8,580.5 1687.2,585.2 1691.3,590.2C1696.2,596.2 1701.0,602.4 1705.2,609.0C1709.3,615.5 1712.8,622.5 1716.1,629.4C1719.1,635.9 1721.6,642.6 1724.0,649.3C1726.6,656.5 1728.9,663.8 1731.0,671.1C1733.2,679.0 1735.1,686.9 1736.9,694.9C1738.7,702.8 1740.2,710.8 1741.9,718.7C1743.2,725.3 1744.7,731.9 1745.8,738.6C1746.5,742.5 1746.8,746.5 1747.2,750.5"/>
<path class="e p" d="M577.2,572.8C582.0,572.8 586.7,572.8 591.5,572.8C629.5,573.0 667.4,573.2 705.4,573.5C748.8,573.9 792.2,574.5 835.6,575.0C879.0,575.5 922.3,575.7 965.7,576.4C1009.1,577.1 1052.6,578.2 1096.0,579.0C1130.7,579.6 1165.3,579.9 1200.0,580.6C1239.2,581.3 1278.3,582.1 1317.5,583.2C1343.9,583.9 1370.4,584.9 1396.8,586.0C1423.2,587.1 1449.6,588.7 1476.0,590.0C1502.5,591.3 1529.1,592.2 1555.6,593.9C1573.1,595.0 1590.5,596.7 1607.9,598.3C1615.9,599.0 1623.9,599.5 1631.7,600.7C1638.4,601.6 1645.1,602.9 1651.6,604.6C1658.3,606.5 1665.2,608.5 1671.4,611.6C1677.8,614.8 1683.9,618.8 1689.3,623.5C1694.5,628.1 1698.9,633.8 1703.2,639.4C1707.1,644.4 1710.7,649.8 1714.1,655.2C1717.3,660.4 1720.2,665.8 1723.0,671.1C1725.8,676.3 1728.6,681.6 1731.0,687.0C1733.2,692.2 1735.1,697.5 1736.9,702.9C1738.7,708.1 1740.4,713.4 1741.9,718.7C1743.3,724.0 1744.7,729.3 1745.8,734.6C1746.9,739.8 1747.6,745.2 1748.4,750.5"/>
<path class="e p" d="M1351.3,631.0C1366.5,630.8 1381.6,630.2 1396.8,630.4C1423.2,630.8 1449.7,631.1 1476.0,632.8C1496.0,634.1 1515.9,636.4 1535.7,639.5C1555.6,642.6 1575.4,646.7 1595.0,651.4C1605.5,653.9 1615.5,658.0 1625.8,661.2C1633.7,663.6 1641.9,665.3 1649.6,668.1C1656.4,670.6 1663.0,673.7 1669.4,677.1C1676.3,680.6 1683.1,684.5 1689.3,689.0C1695.0,693.1 1700.2,697.9 1705.2,702.9C1710.1,707.8 1714.5,713.4 1719.0,718.7C1722.4,722.7 1725.7,726.6 1729.0,730.6C1731.6,733.9 1734.6,737.0 1736.9,740.6C1738.9,743.6 1740.2,747.2 1741.9,750.5"/>
<path class="e p" d="M1345.8,691.8C1362.8,692.3 1379.8,692.2 1396.8,693.1C1423.2,694.6 1449.7,696.0 1476.0,699.0C1496.0,701.3 1515.7,706.5 1535.7,709.0C1557.0,711.7 1578.6,712.3 1600.0,714.8C1606.7,715.5 1613.2,717.4 1619.8,718.7C1626.5,720.1 1633.1,721.2 1639.7,722.7C1646.3,724.2 1652.9,726.0 1659.5,727.7C1666.1,729.3 1672.8,730.7 1679.4,732.6C1686.1,734.6 1692.6,737.1 1699.2,739.6C1705.2,741.8 1711.1,744.2 1717.1,746.5C1720.4,747.8 1723.7,749.2 1727.0,750.5"/>
<path class="e p" d="M1331.3,743.3C1340.7,743.5 1350.1,743.4 1359.5,744.0C1379.4,745.1 1399.2,747.0 1419.0,748.3C1438.9,749.7 1458.7,750.9 1478.6,751.9C1498.4,752.9 1518.3,753.5 1538.1,754.3C1557.9,755.1 1577.8,756.0 1597.6,756.9C1617.5,757.7 1637.3,758.7 1657.1,759.4C1668.8,759.9 1680.6,760.0 1692.3,760.2"/>
<path class="e p" d="M1333.1,788.3C1341.9,788.4 1350.7,788.6 1359.5,788.6C1379.4,788.6 1399.2,788.5 1419.0,788.2C1432.3,788.0 1445.5,787.7 1458.7,787.2C1472.0,786.7 1485.2,785.9 1498.4,785.2C1511.6,784.6 1524.9,783.8 1538.1,783.3C1551.3,782.7 1564.6,782.3 1577.8,781.7C1591.0,781.0 1604.2,780.0 1617.5,779.3C1630.7,778.6 1643.9,778.1 1657.1,777.3C1663.8,776.9 1670.4,776.4 1677.0,775.7C1682.0,775.2 1686.9,774.4 1691.9,773.7"/>
<path class="e p" d="M1363.3,839.0C1368.7,839.1 1374.0,839.2 1379.4,839.2C1392.6,839.1 1405.8,839.0 1419.0,838.6C1432.3,838.2 1445.5,837.5 1458.7,836.6C1472.0,835.7 1485.2,834.6 1498.4,833.3C1511.7,831.9 1524.9,830.3 1538.1,828.7C1551.3,827.0 1564.6,825.4 1577.8,823.3C1591.0,821.3 1604.3,818.9 1617.5,816.4C1630.7,813.9 1644.0,811.4 1657.1,808.5C1663.8,807.0 1670.5,805.1 1677.0,803.1C1681.0,801.8 1685.1,800.4 1688.9,798.5C1691.7,797.2 1694.2,795.2 1696.8,793.6C1699.5,791.9 1702.1,790.3 1704.8,788.6C1708.8,786.0 1712.5,782.9 1716.7,780.7C1719.8,779.0 1723.3,778.0 1726.6,776.7"/>
<path class="e p" d="M1373.3,887.3C1381.9,887.3 1390.6,887.4 1399.2,887.4C1419.0,887.4 1438.9,887.5 1458.7,887.2C1472.0,887.1 1485.2,886.9 1498.4,886.2C1511.7,885.6 1524.9,884.6 1538.1,883.5C1551.3,882.3 1564.6,881.3 1577.8,879.5C1591.1,877.7 1604.4,875.5 1617.5,872.5C1627.5,870.3 1637.5,867.4 1647.2,864.0C1654.0,861.6 1661.0,858.8 1667.1,855.1C1670.2,853.2 1673.0,850.2 1675.0,847.1C1676.9,844.3 1677.7,840.6 1678.6,837.2C1681.2,827.6 1682.4,817.4 1685.5,808.0C1687.0,803.7 1689.5,799.6 1692.2,796.0C1695.0,792.3 1698.6,788.9 1702.2,786.0C1704.9,783.9 1708.2,782.5 1711.2,781.0C1714.4,779.5 1717.8,778.3 1721.1,777.0"/>
<path class="e p" d="M1354.0,938.3C1362.5,938.6 1370.9,938.8 1379.4,939.0C1399.2,939.5 1419.0,940.3 1438.9,940.4C1458.7,940.5 1478.6,939.9 1498.4,939.4C1511.6,939.1 1524.9,938.8 1538.1,937.8C1551.4,936.8 1564.6,935.5 1577.8,933.5C1591.1,931.4 1604.4,928.7 1617.5,925.5C1627.5,923.1 1637.6,920.3 1647.2,916.6C1654.1,914.0 1661.2,910.9 1667.1,906.7C1671.1,903.7 1674.7,899.2 1677.0,894.8C1678.8,891.3 1679.2,886.9 1679.4,882.9C1679.7,872.0 1678.0,860.9 1678.3,850.0C1678.5,841.1 1679.5,832.2 1681.0,823.5C1681.9,818.2 1683.7,813.0 1685.8,808.0C1687.5,803.8 1689.7,799.6 1692.4,796.0C1695.2,792.3 1698.7,788.9 1702.4,786.0C1705.1,783.9 1708.3,782.5 1711.4,781.0C1714.6,779.5 1718.0,778.3 1721.2,777.0"/>
<path class="e p" d="M1395.0,990.8C1403.0,991.1 1411.0,991.5 1419.0,991.6C1438.9,991.9 1458.7,992.2 1478.6,992.0C1498.4,991.7 1518.3,991.0 1538.1,990.0C1551.3,989.3 1564.6,988.7 1577.8,987.0C1591.1,985.4 1604.4,983.1 1617.5,980.1C1627.5,977.8 1637.7,975.0 1647.2,971.2C1654.2,968.4 1661.4,965.0 1667.1,960.2C1671.3,956.7 1674.6,951.4 1677.0,946.3C1678.7,942.8 1679.1,938.5 1679.6,934.4C1679.9,931.3 1679.3,928.1 1679.3,925.0C1679.1,900.0 1678.4,875.0 1678.9,850.0C1679.1,841.1 1679.9,832.2 1681.3,823.5C1682.2,818.2 1684.0,813.0 1686.0,808.0C1687.7,803.8 1689.8,799.6 1692.5,796.0C1695.3,792.3 1698.9,788.9 1702.5,786.0C1705.2,783.9 1708.5,782.5 1711.5,781.0C1714.7,779.5 1718.1,778.3 1721.4,777.0"/>
<path class="e p" d="M1342.1,1036.6C1347.9,1037.1 1353.7,1037.5 1359.5,1037.9C1372.8,1038.9 1386.0,1040.0 1399.2,1040.9C1412.4,1041.8 1425.6,1042.9 1438.9,1043.5C1452.1,1044.1 1465.3,1044.4 1478.6,1044.5C1491.8,1044.6 1505.0,1044.4 1518.3,1043.9C1531.5,1043.4 1544.7,1042.5 1557.9,1041.3C1571.2,1040.1 1584.5,1039.1 1597.6,1036.9C1609.6,1034.9 1621.7,1032.4 1633.3,1028.7C1641.5,1026.0 1649.8,1022.5 1657.0,1017.8C1662.4,1014.2 1667.1,1009.1 1671.0,1003.9C1674.1,999.8 1676.4,994.9 1678.0,990.0C1679.6,985.2 1680.6,980.1 1680.8,975.0C1681.3,960.1 1680.5,945.0 1680.4,930.0C1680.2,915.0 1680.2,900.0 1680.0,885.0C1679.9,873.3 1679.2,861.7 1679.5,850.0C1679.7,841.2 1680.3,832.2 1681.7,823.5C1682.5,818.2 1684.2,813.0 1686.2,808.0C1687.9,803.8 1690.0,799.6 1692.7,796.0C1695.5,792.3 1699.0,788.9 1702.7,786.0C1705.4,783.9 1708.6,782.5 1711.7,781.0C1714.9,779.5 1718.3,778.3 1721.5,777.0"/>
<path class="e p" d="M1365.9,1088.6C1370.4,1088.8 1374.9,1088.8 1379.4,1089.1C1392.6,1089.9 1405.8,1091.1 1419.0,1091.9C1432.3,1092.7 1445.5,1093.7 1458.7,1094.1C1471.9,1094.5 1485.2,1094.6 1498.4,1094.5C1511.6,1094.4 1524.9,1094.2 1538.1,1093.5C1551.3,1092.8 1564.6,1091.4 1577.8,1090.1C1587.7,1089.1 1597.8,1088.4 1607.5,1086.5C1617.6,1084.6 1627.5,1081.7 1637.3,1078.6C1644.1,1076.4 1650.8,1073.8 1657.1,1070.7C1660.7,1068.9 1664.3,1066.5 1667.1,1063.7C1669.5,1061.2 1671.4,1058.0 1673.0,1054.8C1675.1,1050.7 1676.5,1046.3 1678.0,1041.9C1679.6,1037.3 1682.0,1032.8 1682.3,1028.0C1683.3,1013.2 1682.0,998.0 1681.8,983.0C1681.7,968.0 1681.5,953.0 1681.4,938.0C1681.3,923.0 1681.3,908.0 1681.1,893.0C1680.9,878.7 1679.9,864.3 1680.1,850.0C1680.2,841.2 1680.7,832.2 1682.0,823.5C1682.8,818.2 1684.5,813.0 1686.4,808.0C1688.1,803.8 1690.2,799.6 1692.9,796.0C1695.6,792.3 1699.2,788.9 1702.8,786.0C1705.5,783.9 1708.8,782.5 1711.8,781.0C1715.0,779.5 1718.4,778.3 1721.7,777.0"/>
<path class="e p" d="M1345.9,1135.9C1350.5,1136.3 1355.0,1136.8 1359.5,1137.1C1372.7,1138.2 1386.0,1139.3 1399.2,1140.1C1412.4,1140.9 1425.7,1141.6 1438.9,1142.1C1452.1,1142.6 1465.3,1143.0 1478.6,1143.1C1491.8,1143.2 1505.0,1143.0 1518.3,1142.7C1531.5,1142.4 1544.7,1141.9 1557.9,1141.1C1567.9,1140.5 1577.8,1140.0 1587.7,1138.7C1597.7,1137.4 1607.6,1135.4 1617.5,1133.2C1627.5,1130.9 1637.7,1128.8 1647.2,1125.2C1652.9,1123.1 1658.3,1119.9 1663.1,1116.3C1666.2,1114.0 1668.7,1110.6 1671.0,1107.4C1672.6,1105.3 1674.0,1102.9 1675.0,1100.4C1676.7,1096.3 1677.5,1091.8 1679.0,1087.5C1680.4,1083.3 1683.4,1079.4 1683.8,1075.0C1684.9,1060.2 1683.5,1045.0 1683.3,1030.0C1683.1,1015.0 1683.0,1000.0 1682.8,985.0C1682.7,970.0 1682.6,955.0 1682.4,940.0C1682.3,925.0 1682.4,910.0 1682.1,895.0C1681.8,880.0 1680.6,865.0 1680.7,850.0C1680.7,841.2 1681.2,832.2 1682.4,823.5C1683.1,818.2 1684.7,813.0 1686.6,808.0C1688.3,803.8 1690.3,799.6 1693.0,796.0C1695.8,792.3 1699.3,788.9 1703.0,786.0C1705.7,783.9 1708.9,782.5 1712.0,781.0C1715.2,779.5 1718.6,778.3 1721.8,777.0"/>
<path class="e p" d="M1347.0,1183.8C1351.1,1184.1 1355.3,1184.4 1359.5,1184.8C1372.8,1185.9 1386.0,1187.1 1399.2,1188.1C1412.4,1189.1 1425.7,1190.0 1438.9,1190.7C1452.1,1191.5 1465.3,1192.3 1478.6,1192.7C1491.8,1193.1 1505.0,1193.3 1518.3,1193.1C1531.5,1192.9 1544.7,1192.4 1557.9,1191.7C1567.9,1191.2 1577.8,1190.6 1587.7,1189.3C1597.7,1188.0 1607.7,1186.2 1617.5,1183.8C1627.5,1181.3 1637.5,1178.4 1647.2,1174.8C1652.8,1172.8 1658.4,1170.3 1663.1,1166.9C1666.3,1164.6 1668.8,1161.2 1671.0,1158.0C1672.7,1155.6 1673.9,1152.8 1675.0,1150.0C1676.7,1145.8 1677.6,1141.3 1679.4,1137.1C1681.1,1133.0 1684.8,1129.4 1685.2,1125.0C1686.6,1110.3 1685.0,1095.0 1684.8,1080.0C1684.6,1065.0 1684.5,1050.0 1684.3,1035.0C1684.2,1020.0 1684.0,1005.0 1683.9,990.0C1683.8,975.0 1683.6,960.0 1683.5,945.0C1683.3,930.0 1683.5,915.0 1683.1,900.0C1682.8,883.3 1681.4,866.7 1681.3,850.0C1681.3,841.2 1681.6,832.2 1682.8,823.5C1683.4,818.2 1685.0,813.0 1686.9,808.0C1688.5,803.8 1690.5,799.6 1693.2,796.0C1695.9,792.3 1699.5,788.9 1703.2,786.0C1705.8,783.9 1709.1,782.5 1712.2,781.0C1715.3,779.5 1718.7,778.3 1722.0,777.0"/>
<path class="e p" d="M1346.0,1232.0C1350.5,1232.3 1355.0,1232.6 1359.5,1233.0C1372.8,1234.1 1386.0,1235.3 1399.2,1236.3C1412.4,1237.4 1425.6,1238.6 1438.9,1239.3C1452.1,1240.1 1465.3,1240.6 1478.6,1240.9C1491.8,1241.2 1505.0,1241.1 1518.3,1240.9C1531.5,1240.7 1544.7,1240.6 1557.9,1239.9C1567.9,1239.4 1577.8,1238.6 1587.7,1237.3C1597.7,1236.1 1607.7,1234.7 1617.5,1232.4C1626.9,1230.1 1636.2,1226.9 1645.2,1223.5C1650.7,1221.3 1656.4,1218.9 1661.1,1215.5C1664.3,1213.3 1666.8,1209.8 1669.0,1206.6C1670.7,1204.2 1671.5,1201.3 1672.6,1198.7C1674.2,1194.7 1675.2,1190.5 1677.0,1186.7C1679.4,1181.7 1684.7,1177.5 1685.5,1172.0C1687.5,1157.6 1685.4,1142.0 1685.3,1127.0C1685.2,1112.0 1685.0,1097.0 1684.8,1082.0C1684.7,1067.0 1684.5,1052.0 1684.4,1037.0C1684.2,1022.0 1684.1,1007.0 1683.9,992.0C1683.8,977.0 1683.6,962.0 1683.5,947.0C1683.4,932.0 1683.5,917.0 1683.2,902.0C1682.8,884.7 1681.4,867.3 1681.3,850.0C1681.3,841.2 1681.7,832.2 1682.8,823.5C1683.6,818.2 1685.1,813.0 1687.0,808.0C1688.6,803.8 1690.6,799.6 1693.3,796.0C1696.0,792.3 1699.6,788.9 1703.2,786.0C1705.9,783.9 1709.2,782.5 1712.2,781.0C1715.5,779.5 1718.9,778.3 1722.2,777.0"/>
<path class="e p" d="M1364.7,1283.0C1369.6,1283.5 1374.5,1284.2 1379.4,1284.6C1392.6,1285.6 1405.8,1286.4 1419.0,1287.3C1432.3,1288.2 1445.5,1289.3 1458.7,1289.9C1471.9,1290.6 1485.2,1291.2 1498.4,1291.3C1511.6,1291.4 1524.9,1291.1 1538.1,1290.5C1551.3,1290.0 1564.6,1289.1 1577.8,1287.9C1587.7,1287.1 1597.8,1286.5 1607.5,1284.6C1617.6,1282.5 1627.7,1279.6 1637.3,1276.0C1644.2,1273.5 1651.1,1270.2 1657.1,1266.1C1661.0,1263.5 1664.1,1259.8 1667.1,1256.2C1669.4,1253.5 1671.4,1250.4 1673.0,1247.3C1675.1,1243.2 1675.9,1238.5 1678.0,1234.4C1680.4,1229.4 1685.7,1225.4 1686.5,1220.0C1688.6,1205.6 1686.5,1190.0 1686.5,1175.0C1686.5,1160.0 1686.4,1145.0 1686.3,1130.0C1686.2,1115.0 1686.0,1100.0 1685.8,1085.0C1685.7,1070.0 1685.5,1055.0 1685.4,1040.0C1685.2,1025.0 1685.1,1010.0 1685.0,995.0C1684.8,980.0 1684.6,965.0 1684.5,950.0C1684.4,935.0 1684.6,920.0 1684.2,905.0C1683.7,886.7 1682.1,868.3 1681.9,850.0C1681.8,841.2 1682.1,832.2 1683.2,823.5C1683.9,818.2 1685.3,813.0 1687.2,808.0C1688.7,803.8 1690.8,799.6 1693.4,796.0C1696.2,792.3 1699.7,788.9 1703.4,786.0C1706.1,783.9 1709.3,782.5 1712.4,781.0C1715.6,779.5 1719.0,778.3 1722.3,777.0"/>
<path class="e p" d="M1339.0,1327.6C1345.9,1328.3 1352.7,1329.0 1359.5,1329.8C1372.8,1331.2 1386.0,1333.0 1399.2,1334.1C1412.4,1335.3 1425.7,1335.9 1438.9,1336.7C1452.1,1337.5 1465.3,1338.1 1478.6,1338.7C1491.8,1339.3 1505.0,1340.3 1518.3,1340.3C1531.5,1340.2 1544.7,1339.0 1557.9,1338.3C1567.9,1337.7 1577.9,1337.6 1587.7,1336.3C1597.7,1335.0 1607.6,1332.9 1617.5,1330.8C1625.5,1329.0 1633.6,1327.5 1641.3,1324.8C1646.8,1322.9 1652.1,1319.9 1657.1,1316.9C1660.7,1314.7 1664.3,1312.0 1667.1,1308.9C1669.9,1305.8 1672.2,1301.9 1674.0,1298.0C1676.1,1293.6 1677.1,1288.7 1679.0,1284.1C1681.2,1278.7 1685.6,1273.8 1686.3,1268.0C1688.1,1253.4 1686.5,1238.0 1686.5,1223.0C1686.5,1208.0 1686.5,1193.0 1686.5,1178.0C1686.5,1163.0 1686.4,1148.0 1686.3,1133.0C1686.2,1118.0 1686.0,1103.0 1685.9,1088.0C1685.7,1073.0 1685.6,1058.0 1685.4,1043.0C1685.3,1028.0 1685.1,1013.0 1685.0,998.0C1684.8,983.0 1684.7,968.0 1684.5,953.0C1684.4,938.0 1684.6,923.0 1684.2,908.0C1683.7,888.7 1682.1,869.3 1681.9,850.0C1681.8,841.2 1682.2,832.2 1683.3,823.5C1684.0,818.2 1685.4,813.0 1687.3,808.0C1688.8,803.8 1690.9,799.6 1693.5,796.0C1696.3,792.3 1699.8,788.9 1703.5,786.0C1706.2,783.9 1709.4,782.5 1712.5,781.0C1715.7,779.5 1719.1,778.3 1722.5,777.0"/>
<path class="e p" d="M1342.7,1395.4C1349.8,1394.6 1356.9,1393.8 1364.0,1393.2C1373.2,1392.4 1382.5,1391.7 1391.7,1391.0C1400.9,1390.3 1410.2,1389.8 1419.4,1389.0C1429.6,1388.2 1439.8,1387.1 1450.0,1386.2C1459.5,1385.4 1469.1,1384.8 1478.6,1383.9C1491.8,1382.8 1505.0,1381.6 1518.3,1380.4C1531.5,1379.1 1544.7,1377.8 1557.9,1376.4C1567.9,1375.3 1577.8,1374.3 1587.7,1373.0C1597.6,1371.7 1607.6,1370.1 1617.5,1368.5C1627.4,1366.8 1637.4,1365.1 1647.2,1363.1C1653.9,1361.7 1661.7,1361.5 1667.1,1358.1C1671.0,1355.7 1672.8,1350.0 1675.0,1345.6C1677.5,1340.6 1678.9,1335.0 1681.0,1329.8C1682.8,1324.8 1686.1,1320.2 1686.7,1315.0C1688.2,1300.3 1687.1,1285.0 1687.2,1270.0C1687.4,1255.0 1687.5,1240.0 1687.5,1225.0C1687.5,1210.0 1687.5,1195.0 1687.5,1180.0C1687.5,1165.0 1687.4,1150.0 1687.3,1135.0C1687.2,1120.0 1687.0,1105.0 1686.9,1090.0C1686.8,1075.0 1686.6,1060.0 1686.5,1045.0C1686.3,1030.0 1686.2,1015.0 1686.0,1000.0C1685.8,985.0 1685.7,970.0 1685.5,955.0C1685.4,940.0 1685.7,925.0 1685.2,910.0C1684.6,890.0 1682.9,870.0 1682.5,850.0C1682.3,841.2 1682.6,832.2 1683.7,823.5C1684.3,818.2 1685.7,813.0 1687.5,808.0C1689.0,803.8 1691.1,799.6 1693.7,796.0C1696.5,792.3 1700.0,788.9 1703.7,786.0C1706.3,783.9 1709.6,782.5 1712.7,781.0C1715.9,779.5 1719.3,778.3 1722.6,777.0"/>
<path class="e p" d="M1409.0,1436.7C1417.1,1435.9 1425.2,1435.1 1433.3,1434.4C1448.4,1433.1 1463.5,1432.0 1478.6,1430.6C1491.8,1429.2 1505.0,1427.5 1518.3,1426.0C1531.5,1424.5 1544.7,1423.0 1557.9,1421.6C1567.9,1420.6 1577.8,1419.7 1587.7,1418.7C1597.6,1417.6 1607.6,1416.6 1617.5,1415.1C1627.4,1413.6 1637.4,1412.0 1647.2,1409.7C1653.9,1408.2 1661.5,1407.2 1667.1,1403.8C1670.4,1401.7 1672.1,1397.0 1674.0,1393.3C1676.4,1388.8 1677.9,1384.0 1680.0,1379.4C1682.1,1374.6 1685.8,1370.1 1686.5,1365.0C1688.4,1350.3 1687.3,1335.0 1687.6,1320.0C1687.9,1305.0 1688.0,1290.0 1688.2,1275.0C1688.3,1260.0 1688.4,1245.0 1688.5,1230.0C1688.6,1215.0 1688.5,1200.0 1688.5,1185.0C1688.5,1170.0 1688.5,1155.0 1688.4,1140.0C1688.3,1125.0 1688.1,1110.0 1688.0,1095.0C1687.8,1080.0 1687.7,1065.0 1687.5,1050.0C1687.3,1035.0 1687.2,1020.0 1687.0,1005.0C1686.9,990.0 1686.7,975.0 1686.6,960.0C1686.5,945.0 1686.7,930.0 1686.3,915.0C1685.6,893.3 1683.6,871.7 1683.1,850.0C1682.9,841.2 1683.0,832.2 1684.0,823.5C1684.6,818.2 1685.9,813.0 1687.7,808.0C1689.2,803.8 1691.2,799.6 1693.9,796.0C1696.6,792.3 1700.2,788.9 1703.8,786.0C1706.5,783.9 1709.7,782.5 1712.8,781.0C1716.0,779.5 1719.4,778.3 1722.8,777.0"/>
<path class="e p" d="M1357.8,1512.9C1365.0,1513.7 1372.2,1514.6 1379.4,1515.3C1392.6,1516.6 1405.8,1517.8 1419.0,1518.8C1432.3,1519.9 1445.5,1521.0 1458.7,1521.8C1471.9,1522.6 1485.2,1523.3 1498.4,1523.6C1511.6,1523.9 1524.9,1524.0 1538.1,1523.6C1551.3,1523.2 1564.6,1522.4 1577.8,1521.2C1587.7,1520.3 1597.7,1519.0 1607.5,1517.3C1616.2,1515.7 1625.0,1514.1 1633.3,1511.3C1641.6,1508.5 1649.8,1504.9 1657.1,1500.4C1661.1,1498.0 1664.4,1494.2 1667.1,1490.5C1670.0,1486.3 1672.0,1481.3 1674.0,1476.6C1676.3,1471.4 1678.2,1466.1 1680.0,1460.7C1681.7,1455.5 1683.9,1450.4 1684.4,1445.0C1685.7,1430.1 1685.1,1415.0 1685.5,1400.0C1685.9,1385.0 1686.4,1370.0 1686.8,1355.0C1687.2,1340.0 1687.5,1325.0 1687.8,1310.0C1688.0,1295.0 1688.2,1280.0 1688.3,1265.0C1688.4,1250.0 1688.5,1235.0 1688.5,1220.0C1688.5,1205.0 1688.5,1190.0 1688.5,1175.0C1688.5,1160.0 1688.4,1145.0 1688.3,1130.0C1688.2,1115.0 1688.0,1100.0 1687.8,1085.0C1687.7,1070.0 1687.5,1055.0 1687.4,1040.0C1687.2,1025.0 1687.1,1010.0 1687.0,995.0C1686.8,980.0 1686.6,965.0 1686.5,950.0C1686.4,935.0 1686.7,920.0 1686.2,905.0C1685.6,886.7 1683.6,868.3 1683.1,850.0C1682.9,841.2 1683.1,832.2 1684.0,823.5C1684.6,818.2 1686.0,813.0 1687.8,808.0C1689.3,803.8 1691.3,799.6 1693.9,796.0C1696.7,792.3 1700.2,788.9 1703.8,786.0C1706.5,783.9 1709.8,782.5 1712.8,781.0C1716.1,779.5 1719.5,778.3 1722.8,777.0"/>
<path class="e p" d="M1357.8,1560.9C1365.0,1561.7 1372.2,1562.6 1379.4,1563.3C1392.6,1564.6 1405.8,1565.8 1419.0,1566.9C1432.3,1568.0 1445.5,1569.1 1458.7,1569.8C1471.9,1570.6 1485.2,1571.2 1498.4,1571.4C1511.6,1571.7 1524.9,1571.7 1538.1,1571.2C1551.3,1570.8 1564.6,1569.9 1577.8,1568.8C1587.7,1568.0 1597.7,1567.2 1607.5,1565.5C1616.3,1563.9 1625.0,1561.9 1633.3,1558.9C1641.5,1556.0 1649.8,1552.5 1657.1,1548.0C1661.1,1545.6 1664.3,1541.8 1667.1,1538.1C1669.6,1534.6 1671.4,1530.3 1673.0,1526.2C1675.0,1521.0 1676.4,1515.6 1678.0,1510.3C1679.5,1505.2 1681.7,1500.2 1682.1,1495.0C1683.4,1480.1 1682.9,1465.0 1683.2,1450.0C1683.6,1435.0 1684.0,1420.0 1684.4,1405.0C1684.8,1390.0 1685.3,1375.0 1685.6,1360.0C1686.0,1345.0 1686.4,1330.0 1686.7,1315.0C1687.0,1300.0 1687.1,1285.0 1687.2,1270.0C1687.4,1255.0 1687.5,1240.0 1687.5,1225.0C1687.5,1210.0 1687.5,1195.0 1687.5,1180.0C1687.5,1165.0 1687.4,1150.0 1687.3,1135.0C1687.2,1120.0 1687.0,1105.0 1686.9,1090.0C1686.8,1075.0 1686.6,1060.0 1686.5,1045.0C1686.3,1030.0 1686.2,1015.0 1686.0,1000.0C1685.8,985.0 1685.7,970.0 1685.5,955.0C1685.4,940.0 1685.7,925.0 1685.2,910.0C1684.6,890.0 1682.8,870.0 1682.5,850.0C1682.4,841.2 1682.8,832.2 1683.8,823.5C1684.5,818.2 1685.9,813.0 1687.7,808.0C1689.2,803.8 1691.3,799.6 1693.9,796.0C1696.7,792.3 1700.2,788.9 1703.8,786.0C1706.5,783.9 1709.8,782.5 1712.8,781.0C1716.1,779.5 1719.5,778.3 1722.9,777.0"/>
<path class="e p" d="M1345.0,1607.8C1356.4,1609.1 1367.9,1610.6 1379.4,1611.7C1392.6,1613.0 1405.8,1614.0 1419.0,1615.1C1432.3,1616.1 1445.5,1617.3 1458.7,1618.0C1471.9,1618.8 1485.2,1619.4 1498.4,1619.6C1511.6,1619.8 1524.9,1619.6 1538.1,1619.2C1551.3,1618.8 1564.6,1618.4 1577.8,1617.3C1587.7,1616.4 1597.8,1615.3 1607.5,1613.3C1617.6,1611.2 1627.5,1608.0 1637.3,1604.8C1644.1,1602.5 1650.9,1600.1 1657.1,1596.8C1660.8,1594.8 1664.8,1592.2 1667.1,1588.9C1669.5,1585.3 1670.3,1580.4 1671.4,1576.0C1672.9,1570.1 1674.0,1564.1 1675.0,1558.1C1676.1,1551.5 1677.2,1544.9 1678.0,1538.3C1678.7,1532.2 1679.2,1526.1 1679.5,1520.0C1680.1,1505.0 1680.2,1490.0 1680.6,1475.0C1681.0,1460.0 1681.4,1445.0 1681.8,1430.0C1682.1,1415.0 1682.5,1400.0 1682.9,1385.0C1683.3,1370.0 1683.9,1355.0 1684.2,1340.0C1684.5,1325.0 1684.7,1310.0 1684.9,1295.0C1685.2,1280.0 1685.4,1265.0 1685.5,1250.0C1685.6,1235.0 1685.5,1220.0 1685.5,1205.0C1685.5,1190.0 1685.6,1175.0 1685.5,1160.0C1685.4,1145.0 1685.3,1130.0 1685.2,1115.0C1685.0,1100.0 1684.9,1085.0 1684.7,1070.0C1684.5,1055.0 1684.4,1040.0 1684.2,1025.0C1684.1,1010.0 1683.9,995.0 1683.8,980.0C1683.7,965.0 1683.5,950.0 1683.4,935.0C1683.3,920.0 1683.4,905.0 1683.1,890.0C1682.7,876.7 1681.2,863.3 1681.3,850.0C1681.3,841.2 1682.1,832.2 1683.4,823.5C1684.2,818.2 1685.6,813.0 1687.5,808.0C1689.1,803.8 1691.2,799.6 1693.8,796.0C1696.6,792.3 1700.1,788.9 1703.8,786.0C1706.5,783.9 1709.7,782.5 1712.8,781.0C1716.1,779.5 1719.6,778.3 1723.0,777.0"/>
<path class="e p" d="M1298.2,1660.6C1305.4,1662.5 1312.7,1664.2 1319.8,1666.3C1329.8,1669.1 1339.6,1672.5 1349.6,1675.2C1359.4,1677.8 1369.4,1680.0 1379.4,1682.1C1389.3,1684.3 1399.2,1686.3 1409.1,1688.1C1419.0,1689.8 1428.9,1691.5 1438.9,1692.7C1448.8,1693.8 1458.7,1694.5 1468.7,1695.0C1478.6,1695.5 1488.5,1695.7 1498.4,1695.6C1508.3,1695.6 1518.3,1695.3 1528.2,1694.6C1538.1,1693.9 1548.1,1693.2 1557.9,1691.5C1568.0,1689.7 1578.1,1687.4 1587.7,1684.1C1597.9,1680.7 1607.6,1675.7 1617.5,1671.2C1624.2,1668.1 1631.1,1665.3 1637.3,1661.3C1644.4,1656.7 1651.0,1651.2 1657.1,1645.4C1660.9,1641.9 1664.5,1637.9 1667.1,1633.5C1669.1,1630.0 1669.9,1625.7 1671.0,1621.6C1672.3,1617.1 1673.2,1612.4 1674.0,1607.7C1674.8,1603.1 1675.6,1598.5 1676.0,1593.8C1676.8,1585.3 1677.6,1576.6 1677.6,1568.0C1677.6,1558.7 1676.1,1549.4 1676.0,1540.0C1675.9,1525.0 1676.8,1510.0 1677.1,1495.0C1677.5,1480.0 1677.9,1465.0 1678.2,1450.0C1678.6,1435.0 1679.0,1420.0 1679.4,1405.0C1679.8,1390.0 1680.3,1375.0 1680.6,1360.0C1681.0,1345.0 1681.4,1330.0 1681.7,1315.0C1682.0,1300.0 1682.1,1285.0 1682.2,1270.0C1682.4,1255.0 1682.5,1240.0 1682.5,1225.0C1682.5,1210.0 1682.5,1195.0 1682.5,1180.0C1682.5,1165.0 1682.4,1150.0 1682.3,1135.0C1682.2,1120.0 1682.0,1105.0 1681.9,1090.0C1681.8,1075.0 1681.6,1060.0 1681.5,1045.0C1681.3,1030.0 1681.2,1015.0 1681.0,1000.0C1680.8,985.0 1680.7,970.0 1680.5,955.0C1680.4,940.0 1680.4,925.0 1680.2,910.0C1680.0,890.0 1678.9,870.0 1679.5,850.0C1679.8,841.1 1681.1,832.2 1682.7,823.5C1683.7,818.2 1685.2,813.0 1687.2,808.0C1688.9,803.8 1691.0,799.6 1693.7,796.0C1696.5,792.3 1700.0,788.9 1703.7,786.0C1706.4,783.9 1709.6,782.4 1712.7,781.0C1716.0,779.4 1719.6,778.3 1723.0,777.0"/>
<rect class="nk" x="420.5" y="154.5" width="165.0" height="25.0"/>
<rect class="nk" x="307.5" y="202.5" width="393.0" height="25.0"/>
<rect class="nk" x="7.5" y="354.5" width="172.0" height="25.0"/>
<rect class="nk" x="413.5" y="372.5" width="179.0" height="26.0"/>
<rect class="nk" x="37.5" y="440.5" width="110.0" height="26.0"/>
<rect class="nk" x="800.5" y="440.5" width="185.0" height="26.0"/>
<rect class="nr" x="397.5" y="498.5" width="212.0" height="25.0"/>
<rect class="nr" x="444.5" y="560.5" width="119.0" height="26.0"/>
<rect class="nk" x="1199.5" y="6.5" width="102.0" height="25.0"/>
<rect class="nk" x="1185.5" y="107.5" width="128.0" height="25.0"/>
<rect class="nk" x="1148.5" y="155.5" width="203.0" height="25.0"/>
<rect class="nk" x="1064.5" y="203.5" width="371.0" height="25.0"/>
<rect class="nk" x="1169.5" y="314.5" width="162.0" height="25.0"/>
<rect class="nk" x="1151.5" y="424.5" width="197.0" height="26.0"/>
<rect class="nk" x="1177.5" y="472.5" width="144.0" height="26.0"/>
<rect class="nk" x="1173.5" y="520.5" width="152.0" height="26.0"/>
<rect class="nk" x="1161.5" y="631.5" width="176.0" height="25.0"/>
<rect class="nk" x="1168.5" y="679.5" width="164.0" height="25.0"/>
<rect class="nk" x="1183.5" y="727.5" width="134.0" height="25.0"/>
<rect class="nk" x="1180.5" y="775.5" width="139.0" height="25.0"/>
<rect class="nk" x="1151.5" y="823.5" width="198.0" height="25.0"/>
<rect class="nk" x="1141.5" y="871.5" width="218.0" height="25.0"/>
<rect class="nk" x="1159.5" y="919.5" width="181.0" height="25.0"/>
<rect class="nk" x="1119.5" y="967.5" width="262.0" height="25.0"/>
<rect class="nk" x="1171.5" y="1015.5" width="157.0" height="25.0"/>
<rect class="nr" x="1148.5" y="1063.5" width="204.0" height="25.0"/>
<rect class="nk" x="1168.5" y="1111.5" width="164.0" height="25.0"/>
<rect class="nk" x="1165.5" y="1159.5" width="168.0" height="25.0"/>
<rect class="nk" x="1167.5" y="1207.5" width="165.0" height="25.0"/>
<rect class="nk" x="1144.5" y="1255.5" width="211.0" height="25.0"/>
<rect class="nr" x="1175.5" y="1303.5" width="150.0" height="25.0"/>
<rect class="nr" x="1169.5" y="1390.5" width="160.0" height="25.0"/>
<rect class="nr" x="1101.5" y="1438.5" width="296.0" height="25.0"/>
<rect class="nr" x="1147.5" y="1486.5" width="205.0" height="25.0"/>
<rect class="nk" x="1151.5" y="1534.5" width="197.0" height="25.0"/>
<rect class="nk" x="1169.5" y="1582.5" width="162.0" height="25.0"/>
<rect class="nr" x="1091.5" y="1630.5" width="318.0" height="25.0"/>
<rect class="nk" x="1692.5" y="751.5" width="121.0" height="25.0"/>
<rect class="nk" x="1709.5" y="851.5" width="86.0" height="25.0"/>
<rect class="nk" x="2121.5" y="602.5" width="159.0" height="25.0"/>
<rect class="nr" x="2068.5" y="692.5" width="265.0" height="26.0"/>
<rect class="nr" x="2112.5" y="740.5" width="177.0" height="26.0"/>
<rect class="nr" x="2103.5" y="788.5" width="194.0" height="26.0"/>
<rect class="nk" x="2139.5" y="851.5" width="124.0" height="25.0"/>
<rect class="nk" x="2452.5" y="774.5" width="217.0" height="25.0"/>
<rect class="ng" x="2843.5" y="774.5" width="149.0" height="25.0"/>
<rect class="nk" x="2459.5" y="927.5" width="202.0" height="25.0"/>
<rect class="nk" x="2505.5" y="218.5" width="110.0" height="25.0"/>
<rect class="nr" x="429.5" y="939.5" width="148.0" height="25.0"/>
<rect class="nk" x="285.5" y="1255.5" width="435.0" height="25.0"/>
<polygon class="ap" points="586.0,166.0 599.3,170.7 599.3,161.3"/>
<polygon class="ap" points="701.0,214.0 714.3,218.8 714.3,209.4"/>
<polygon class="ab" points="180.0,370.0 193.1,375.3 193.5,365.9"/>
<polygon class="ap" points="148.0,441.4 161.8,444.1 160.5,434.8"/>
<polygon class="ap" points="148.0,452.6 161.3,457.3 161.3,447.9"/>
<polygon class="ap" points="49.2,440.4 46.1,426.6 38.2,431.6"/>
<polygon class="ab" points="610.0,506.4 623.5,510.5 623.1,501.1"/>
<polygon class="ab" points="610.0,511.3 622.9,516.9 623.6,507.6"/>
<polygon class="ap" points="564.0,570.2 577.8,573.3 576.7,564.0"/>
<polygon class="ap" points="592.8,395.7 605.7,401.5 606.4,392.1"/>
<polygon class="ap" points="721.0,1267.3 734.3,1272.0 734.3,1262.6"/>
<polygon class="ab" points="517.9,939.3 531.5,935.7 526.3,927.9"/>
<polygon class="ab" points="526.2,939.3 540.1,936.8 535.4,928.6"/>
<polygon class="ab" points="541.7,939.3 555.8,940.2 553.2,931.1"/>
<polygon class="ab" points="577.7,940.7 591.4,944.1 590.5,934.7"/>
<polygon class="ab" points="577.7,948.8 591.2,953.0 590.8,943.6"/>
<polygon class="ab" points="577.7,954.4 591.1,958.9 590.9,949.5"/>
<polygon class="ab" points="577.7,959.2 590.4,965.4 591.4,956.0"/>
<polygon class="ab" points="553.6,964.5 565.7,971.8 567.6,962.6"/>
<polygon class="ab" points="529.8,964.5 539.6,974.6 543.8,966.2"/>
<polygon class="ab" points="520.8,964.5 528.2,976.5 534.1,969.2"/>
<polygon class="ab" points="2616.1,219.0 2629.7,222.7 2629.0,213.4"/>
<polygon class="ap" points="2670.0,786.2 2683.3,790.9 2683.3,781.5"/>
<polygon class="ab" points="2290.0,759.4 2302.8,765.3 2303.7,756.0"/>
<polygon class="ab" points="2298.0,796.1 2311.5,800.3 2311.1,790.9"/>
<polygon class="ab" points="1796.0,863.2 1809.3,867.9 1809.3,858.5"/>
<polygon class="ap" points="2263.8,855.5 2277.7,857.7 2276.0,848.4"/>
<polygon class="ap" points="2263.8,863.4 2277.1,868.1 2277.1,858.7"/>
<polygon class="ap" points="2662.4,946.5 2675.9,950.7 2675.5,941.3"/>
<polygon class="ap" points="1753.8,751.0 1759.7,738.2 1750.4,737.3"/>
<polygon class="ap" points="1763.7,751.0 1772.0,739.6 1763.0,736.9"/>
<polygon class="ap" points="2157.0,628.0 2142.9,628.4 2146.3,637.2"/>
<polygon class="ap" points="1781.5,751.3 1795.5,749.7 1791.4,741.3"/>
<polygon class="ap" points="2095.6,718.5 2081.6,720.0 2085.6,728.5"/>
<polygon class="ap" points="1783.0,777.0 1793.8,786.0 1797.1,777.2"/>
<polygon class="ap" points="1302.0,11.5 1315.3,16.2 1315.3,6.8"/>
<polygon class="ap" points="1709.3,855.2 1697.2,847.9 1695.3,857.1"/>
<polygon class="ap" points="1185.4,111.8 1172.7,105.7 1171.7,115.1"/>
<polygon class="ap" points="1169.3,1392.2 1156.6,1386.1 1155.6,1395.4"/>
<polygon class="ap" points="1302.0,16.7 1315.3,21.4 1315.3,12.0"/>
<polygon class="ap" points="1313.6,127.1 1326.4,133.1 1327.3,123.7"/>
<polygon class="ap" points="1352.0,179.8 1364.5,186.4 1365.8,177.1"/>
<polygon class="ap" points="1392.9,229.0 1405.6,235.2 1406.6,225.8"/>
<polygon class="ap" points="524.0,372.5 537.5,368.6 532.1,360.9"/>
<polygon class="ap" points="1332.1,322.2 1345.7,326.0 1345.1,316.7"/>
<polygon class="ap" points="985.9,443.0 1000.0,443.9 997.4,434.8"/>
<polygon class="ap" points="1349.2,431.0 1362.5,435.6 1362.5,426.2"/>
<polygon class="ap" points="1322.2,482.1 1335.6,486.5 1335.4,477.1"/>
<polygon class="ap" points="1326.2,534.1 1339.3,539.3 1339.7,529.9"/>
<polygon class="ap" points="563.9,572.8 577.2,577.5 577.2,568.1"/>
<polygon class="ap" points="1338.0,631.2 1351.4,635.7 1351.2,626.3"/>
<polygon class="ap" points="1332.5,691.5 1345.7,696.5 1345.9,687.1"/>
<polygon class="ap" points="1318.0,743.0 1331.2,748.0 1331.4,738.6"/>
<polygon class="ap" points="1319.8,788.2 1333.1,793.0 1333.1,783.6"/>
<polygon class="ap" points="1350.0,838.8 1363.2,843.7 1363.4,834.3"/>
<polygon class="ap" points="1360.0,887.2 1373.3,892.0 1373.3,882.6"/>
<polygon class="ap" points="1340.7,938.0 1353.9,943.0 1354.1,933.6"/>
<polygon class="ap" points="1381.7,990.4 1394.8,995.5 1395.1,986.1"/>
<polygon class="ap" points="1328.8,1035.6 1341.7,1041.3 1342.4,1031.9"/>
<polygon class="ap" points="1352.6,1088.1 1365.7,1093.3 1366.1,1083.9"/>
<polygon class="ap" points="1332.7,1134.6 1345.5,1140.5 1346.4,1131.2"/>
<polygon class="ap" points="1333.7,1182.8 1346.6,1188.5 1347.3,1179.1"/>
<polygon class="ap" points="1332.7,1231.0 1345.6,1236.7 1346.3,1227.3"/>
<polygon class="ap" points="1351.6,1280.6 1363.8,1287.6 1365.5,1278.4"/>
<polygon class="ap" points="1325.8,1326.2 1338.5,1332.3 1339.5,1322.9"/>
<polygon class="ap" points="1329.4,1396.0 1342.9,1400.0 1342.5,1390.7"/>
<polygon class="ap" points="1395.8,1438.6 1409.6,1441.3 1408.3,1432.0"/>
<polygon class="ap" points="1344.6,1511.7 1357.4,1517.6 1358.3,1508.3"/>
<polygon class="ap" points="1344.6,1559.5 1357.3,1565.6 1358.3,1556.3"/>
<polygon class="ap" points="1331.7,1606.7 1344.6,1612.5 1345.3,1603.1"/>
<polygon class="ap" points="1285.7,1656.0 1296.5,1665.0 1299.8,1656.2"/>
</g>
<defs><filter id="bw" filterUnits="userSpaceOnUse" x="0" y="0" width="2997" height="1739" color-interpolation-filters="sRGB"><feComponentTransfer><feFuncA type="discrete" tableValues="0 0 1 1"/></feComponentTransfer></filter></defs>
<g filter="url(#bw)">
<text x="500.6" y="171">TAO_Service_Callbacks</text>
<text x="501.6" y="219">ACE_Atomic_Op_Ex&lt; TAO_SYNCH_MUTEX, unsigned long &gt;</text>
<text x="91.1" y="371">ACE_String_Base_Const</text>
<text x="500.6" y="390">ACE_String_Base&lt; char &gt;</text>
<text x="90.3" y="458">ACE_Allocator</text>
<text x="890.8" y="458">ACE_Unbounded_Set&lt; T &gt;</text>
<text x="501.1" y="515">TAO_Local_RefCounted_Object</text>
<text x="501.6" y="578">TAO_Policy_Set</text>
<text x="1248.3" y="23">TAO_Adapter</text>
<text x="1247.3" y="124">ACE_Time_Value</text>
<text x="1247.9" y="172">TAO_Fault_Tolerance_Service</text>
<text x="1247.7" y="220">ACE_Atomic_Op&lt; TAO_SYNCH_MUTEX, unsigned long &gt;</text>
<text x="1248.5" y="331">TAO_ORB_Parameters</text>
<text x="1247.9" y="442">TAO_Cleanup_Func_Registry</text>
<text x="1247.5" y="490">TAO_Policy_Current</text>
<text x="1247.3" y="538">TAO_Policy_Manager</text>
<text x="1247.3" y="648">TAO_Request_Dispatcher</text>
<text x="1248.3" y="696">TAO_Flushing_Strategy</text>
<text x="1248.3" y="744">TAO_Stub_Factory</text>
<text x="1247.7" y="792">TAO_BiDir_Adapter</text>
<text x="1248.3" y="840">TAO_Client_Strategy_Factory</text>
<text x="1248.3" y="888">TAO_Endpoint_Selector_Factory</text>
<text x="1247.7" y="936">TAO_Collocation_Resolver</text>
<text x="1248.5" y="984">TAO_Network_Priority_Protocols_Hooks</text>
<text x="1247.7" y="1032">TAO_Protocols_Hooks</text>
<text x="1248.3" y="1080">TAO_Server_Strategy_Factory</text>
<text x="1248.3" y="1128">TAO_Resource_Factory</text>
<text x="1247.2" y="1176">TAO_Valuetype_Adapter</text>
<text x="1247.7" y="1224">TAO_Codeset_Manager</text>
<text x="1247.7" y="1272">TAO_Service_Context_Registry</text>
<text x="1248.3" y="1320">TAO_Parser_Registry</text>
<text x="1247.3" y="1407">ACE_Thread_Manager</text>
<text x="1247.3" y="1455">ACE_Lock_Adapter&lt; TAO_SYNCH_MUTEX &gt;</text>
<text x="1247.7" y="1503">TAO_Pseudo_Var_T&lt; Object &gt;</text>
<text x="1247.9" y="1551">TAO_IORInterceptor_Adapter</text>
<text x="1248.2" y="1599">TAO_Object_Ref_Table</text>
<text x="1248.3" y="1647">ACE_Intrusive_Auto_Ptr&lt; ACE_Service_Gestalt &gt;</text>
<text x="1750.9" y="768">TAO_ORB_Core</text>
<text x="1750.5" y="868">ACE_Addr</text>
<text x="2198.7" y="619">TAO_Adapter_Registry</text>
<text x="2198.8" y="710">TAO_Thread_Lane_Resources_Manager</text>
<text x="2198.8" y="757">TAO_Connection_Handler</text>
<text x="2198.3" y="806">TAO_DIOP_SVC_HANDLER</text>
<text x="2199.3" y="868">ACE_INET_Addr</text>
<text x="2558.9" y="791">TAO_DIOP_Connection_Handler</text>
<text x="2916.0" y="791" style="stroke:none">TAO_DIOP_Acceptor</text>
<text x="2558.5" y="944">TAO_GIOP_Message_Version</text>
<text x="2558.2" y="235">TAO_Acceptor</text>
<text x="501.3" y="956">ACE_Service_Object</text>
<text x="500.9" y="1272">ACE_Array_Map&lt; IOP::ServiceId, TAO_Service_Context_Handler * &gt;</text>
<text x="890.9" y="164">ft_service_callback_</text>
<text x="891.3" y="212">impl_</text>
<text x="891.0" y="288">stub_factory_name_</text>
<text x="891.0" y="303">collocation_resolver_name_</text>
<text x="891.0" y="318">default_init_ref_</text>
<text x="891.0" y="332">endpoint_selector_factory_name_</text>
<text x="891.0" y="347">protocols_hooks_name_</text>
<text x="891.0" y="362">poa_factory_name_</text>
<text x="891.0" y="376">thread_lane_resources_manager_factory_name_</text>
<text x="891.0" y="391">pref_network_</text>
<text x="891.0" y="406">poa_factory_directive_</text>
<text x="91.7" y="412">allocator_</text>
<text x="231.7" y="418">allocator_</text>
<text x="231.7" y="448">allocator_</text>
<text x="891.3" y="540">impl_</text>
<text x="1248.8" y="66">max_time</text>
<text x="1248.8" y="80">zero</text>
<text x="1561.9" y="96">poa_adapter_</text>
<text x="1751.2" y="100">adapters_</text>
<text x="1561.5" y="144">thread_per_connection_timeout_</text>
<text x="1561.5" y="190">ft_service_</text>
<text x="1561.5" y="235">refcount_</text>
<text x="1248.8" y="254">server_id_</text>
<text x="1561.5" y="319">orb_params_</text>
<text x="1249.2" y="384">protocol_factories_</text>
<text x="1561.5" y="423">tss_cleanup_funcs_</text>
<text x="1561.5" y="475">policy_current_</text>
<text x="1561.5" y="535">policy_manager_</text>
<text x="1248.0" y="572">default_policies_</text>
<text x="1561.9" y="624">request_dispatcher_</text>
<text x="1561.9" y="692">flushing_strategy_</text>
<text x="1561.9" y="744">stub_factory_</text>
<text x="1561.9" y="772">bidir_adapter_</text>
<text x="1561.9" y="802">client_factory_</text>
<text x="1561.9" y="850">endpoint_selector_factory_</text>
<text x="1561.9" y="902">collocation_resolver_</text>
<text x="1561.9" y="955">network_priority_protocols_hooks_</text>
<text x="1561.9" y="1007">protocols_hooks_</text>
<text x="1561.9" y="1059">server_factory_</text>
<text x="1561.9" y="1108">resource_factory_</text>
<text x="1561.9" y="1158">valuetype_adapter_</text>
<text x="1751.2" y="823">sap_any</text>
<text x="1938.5" y="592">orb_core_</text>
<text x="1938.5" y="703">orb_core_</text>
<text x="1938.5" y="786">orb_core_</text>
<text x="1939.7" y="654">adapter_registry_</text>
<text x="1938.7" y="744">thread_lane_resources_manager_</text>
<text x="2390.8" y="590">orb_core_</text>
<text x="2755.0" y="782">connection_handler_</text>
<text x="2391.2" y="810">local_addr_</text>
<text x="2391.6" y="824">addr_</text>
<text x="2559.0" y="822">addrs_</text>
<text x="2559.5" y="836">default_address_</text>
<text x="2754.7" y="908">version_</text>
<text x="891.3" y="1263">registry_</text>
<text x="1561.5" y="1207">codeset_manager_</text>
<text x="1561.5" y="1256">service_context_registry_</text>
<text x="1561.5" y="1306">parser_registry_</text>
<text x="1561.5" y="1354">tm_</text>
<text x="1248.0" y="1362">thr_mgr_</text>
<text x="1561.5" y="1399">data_block_lock_</text>
<text x="1561.5" y="1447">rt_orb_</text>
<text x="1561.5" y="1462">poa_current_</text>
<text x="1561.5" y="1476">rt_current_</text>
<text x="1561.5" y="1491">root_poa_</text>
<text x="1561.5" y="1538">ior_interceptor_adapter_</text>
<text x="1561.5" y="1586">object_ref_table_</text>
<text x="1561.5" y="1634">config_</text>
</g>
</svg>
</body></html>
